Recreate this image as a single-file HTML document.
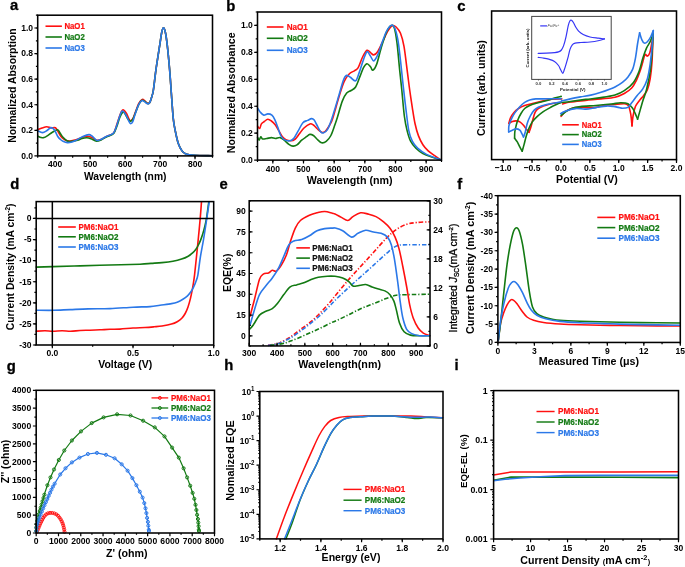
<!DOCTYPE html>
<html><head><meta charset="utf-8"><style>html,body{margin:0;padding:0;background:#fff;}svg{display:block;will-change:transform;}</style></head>
<body><svg width="685" height="567" viewBox="0 0 685 567" font-family="Liberation Sans, sans-serif">
<rect width="685" height="567" fill="#fff"/>
<text x="10.10" y="10.10" font-size="14.80" font-weight="bold" text-anchor="start" fill="#000" stroke="#000" stroke-width="0.3">a</text>
<text x="226.20" y="10.80" font-size="14.80" font-weight="bold" text-anchor="start" fill="#000" stroke="#000" stroke-width="0.3">b</text>
<text x="457.20" y="11.00" font-size="14.80" font-weight="bold" text-anchor="start" fill="#000" stroke="#000" stroke-width="0.3">c</text>
<text x="10.20" y="188.80" font-size="14.80" font-weight="bold" text-anchor="start" fill="#000" stroke="#000" stroke-width="0.3">d</text>
<text x="219.60" y="189.10" font-size="14.80" font-weight="bold" text-anchor="start" fill="#000" stroke="#000" stroke-width="0.3">e</text>
<text x="457.30" y="188.50" font-size="14.80" font-weight="bold" text-anchor="start" fill="#000" stroke="#000" stroke-width="0.3">f</text>
<text x="6.80" y="370.60" font-size="14.80" font-weight="bold" text-anchor="start" fill="#000" stroke="#000" stroke-width="0.3">g</text>
<text x="224.30" y="370.40" font-size="14.80" font-weight="bold" text-anchor="start" fill="#000" stroke="#000" stroke-width="0.3">h</text>
<text x="454.50" y="370.40" font-size="14.80" font-weight="bold" text-anchor="start" fill="#000" stroke="#000" stroke-width="0.3">i</text>
<path d="M37.90,129.70 C38.58,129.42 40.52,128.50 42.00,128.00 C43.48,127.50 45.30,126.72 46.80,126.70 C48.30,126.68 49.57,127.72 51.00,127.90 C52.43,128.08 54.23,127.20 55.40,127.80 C56.57,128.40 57.10,130.10 58.00,131.50 C58.90,132.90 59.88,134.95 60.80,136.20 C61.72,137.45 62.60,138.28 63.50,139.00 C64.40,139.72 65.12,140.17 66.20,140.50 C67.28,140.83 68.38,141.12 70.00,141.00 C71.62,140.88 73.90,140.38 75.90,139.80 C77.90,139.22 80.18,138.10 82.00,137.50 C83.82,136.90 85.13,136.20 86.80,136.20 C88.47,136.20 90.38,136.83 92.00,137.50 C93.62,138.17 95.00,139.87 96.50,140.20 C98.00,140.53 99.37,140.10 101.00,139.50 C102.63,138.90 104.53,137.45 106.30,136.60 C108.07,135.75 110.27,135.20 111.60,134.40 C112.93,133.60 113.40,133.53 114.30,131.80 C115.20,130.07 116.08,126.72 117.00,124.00 C117.92,121.28 118.97,117.70 119.80,115.50 C120.63,113.30 121.33,111.70 122.00,110.80 C122.67,109.90 123.05,109.65 123.80,110.10 C124.55,110.55 125.63,112.02 126.50,113.50 C127.37,114.98 128.30,117.80 129.00,119.00 C129.70,120.20 130.03,120.78 130.70,120.70 C131.37,120.62 132.18,120.03 133.00,118.50 C133.82,116.97 134.63,114.00 135.60,111.50 C136.57,109.00 137.68,105.50 138.80,103.50 C139.92,101.50 141.33,99.97 142.30,99.50 C143.27,99.03 143.72,100.08 144.60,100.70 C145.48,101.32 146.75,102.90 147.60,103.20 C148.45,103.50 148.98,103.65 149.70,102.50 C150.42,101.35 151.28,98.38 151.90,96.30 C152.52,94.22 152.72,94.48 153.40,90.00 C154.08,85.52 154.93,76.95 156.00,69.40 C157.07,61.85 158.83,50.93 159.80,44.70 C160.77,38.47 161.18,34.80 161.80,32.00 C162.42,29.20 162.92,27.90 163.50,27.90 C164.08,27.90 164.68,29.20 165.30,32.00 C165.92,34.80 166.48,38.47 167.20,44.70 C167.92,50.93 168.90,61.18 169.60,69.40 C170.30,77.62 170.78,85.77 171.40,94.00 C172.02,102.23 172.65,112.63 173.30,118.80 C173.95,124.97 174.47,126.88 175.30,131.00 C176.13,135.12 177.18,140.18 178.30,143.50 C179.42,146.82 180.88,149.23 182.00,150.90 C183.12,152.57 183.77,152.85 185.00,153.50 C186.23,154.15 187.73,154.50 189.40,154.80 C191.07,155.10 191.15,155.15 195.00,155.30 C198.85,155.45 209.58,155.63 212.50,155.70" fill="none" stroke="#ff1010" stroke-width="1.60" stroke-linejoin="round" stroke-linecap="round" />
<path d="M37.90,136.20 C38.42,136.42 39.98,137.27 41.00,137.50 C42.02,137.73 42.83,137.97 44.00,137.60 C45.17,137.23 46.67,136.15 48.00,135.30 C49.33,134.45 50.40,133.43 52.00,132.50 C53.60,131.57 56.27,129.62 57.60,129.70 C58.93,129.78 59.10,131.73 60.00,133.00 C60.90,134.27 61.78,135.97 63.00,137.30 C64.22,138.63 65.97,140.32 67.30,141.00 C68.63,141.68 69.28,141.52 71.00,141.40 C72.72,141.28 75.77,140.78 77.60,140.30 C79.43,139.82 80.47,138.92 82.00,138.50 C83.53,138.08 85.30,137.75 86.80,137.80 C88.30,137.85 89.38,138.23 91.00,138.80 C92.62,139.37 94.83,141.00 96.50,141.20 C98.17,141.40 99.37,140.70 101.00,140.00 C102.63,139.30 104.53,137.87 106.30,137.00 C108.07,136.13 110.27,135.55 111.60,134.80 C112.93,134.05 113.40,133.97 114.30,132.50 C115.20,131.03 116.08,128.50 117.00,126.00 C117.92,123.50 118.83,119.80 119.80,117.50 C120.77,115.20 122.02,112.95 122.80,112.20 C123.58,111.45 123.80,112.12 124.50,113.00 C125.20,113.88 126.22,116.25 127.00,117.50 C127.78,118.75 128.58,119.88 129.20,120.50 C129.82,121.12 130.07,121.45 130.70,121.20 C131.33,120.95 132.18,120.45 133.00,119.00 C133.82,117.55 134.63,114.92 135.60,112.50 C136.57,110.08 137.73,106.53 138.80,104.50 C139.87,102.47 141.03,100.83 142.00,100.30 C142.97,99.77 143.67,100.77 144.60,101.30 C145.53,101.83 146.75,103.28 147.60,103.50 C148.45,103.72 148.98,103.80 149.70,102.60 C150.42,101.40 151.28,98.40 151.90,96.30 C152.52,94.20 152.72,94.48 153.40,90.00 C154.08,85.52 154.93,76.95 156.00,69.40 C157.07,61.85 158.83,50.93 159.80,44.70 C160.77,38.47 161.18,34.80 161.80,32.00 C162.42,29.20 162.92,27.90 163.50,27.90 C164.08,27.90 164.68,29.20 165.30,32.00 C165.92,34.80 166.48,38.47 167.20,44.70 C167.92,50.93 168.90,61.18 169.60,69.40 C170.30,77.62 170.78,85.77 171.40,94.00 C172.02,102.23 172.65,112.63 173.30,118.80 C173.95,124.97 174.47,126.88 175.30,131.00 C176.13,135.12 177.18,140.18 178.30,143.50 C179.42,146.82 180.88,149.23 182.00,150.90 C183.12,152.57 183.77,152.85 185.00,153.50 C186.23,154.15 187.73,154.50 189.40,154.80 C191.07,155.10 191.15,155.15 195.00,155.30 C198.85,155.45 209.58,155.63 212.50,155.70" fill="none" stroke="#137a13" stroke-width="1.60" stroke-linejoin="round" stroke-linecap="round" />
<path d="M37.90,130.90 C38.67,131.18 40.98,132.67 42.50,132.60 C44.02,132.53 45.57,131.33 47.00,130.50 C48.43,129.67 49.85,127.68 51.10,127.60 C52.35,127.52 53.42,128.57 54.50,130.00 C55.58,131.43 56.60,134.62 57.60,136.20 C58.60,137.78 59.60,138.67 60.50,139.50 C61.40,140.33 61.87,140.68 63.00,141.20 C64.13,141.72 65.80,142.47 67.30,142.60 C68.80,142.73 70.57,142.38 72.00,142.00 C73.43,141.62 74.08,141.22 75.90,140.30 C77.72,139.38 80.73,137.45 82.90,136.50 C85.07,135.55 87.38,134.68 88.90,134.60 C90.42,134.52 90.73,135.07 92.00,136.00 C93.27,136.93 95.17,139.57 96.50,140.20 C97.83,140.83 98.37,140.40 100.00,139.80 C101.63,139.20 104.37,137.50 106.30,136.60 C108.23,135.70 110.27,135.20 111.60,134.40 C112.93,133.60 113.42,133.38 114.30,131.80 C115.18,130.22 116.02,127.45 116.90,124.90 C117.78,122.35 118.83,118.68 119.60,116.50 C120.37,114.32 120.88,112.67 121.50,111.80 C122.12,110.93 122.52,110.70 123.30,111.30 C124.08,111.90 125.23,113.67 126.20,115.40 C127.17,117.13 128.35,120.32 129.10,121.70 C129.85,123.08 130.08,123.70 130.70,123.70 C131.32,123.70 132.02,123.43 132.80,121.70 C133.58,119.97 134.43,116.12 135.40,113.30 C136.37,110.48 137.53,106.92 138.60,104.80 C139.67,102.68 140.83,101.13 141.80,100.60 C142.77,100.07 143.43,101.07 144.40,101.60 C145.37,102.13 146.72,103.62 147.60,103.80 C148.48,103.98 148.98,103.95 149.70,102.70 C150.42,101.45 151.28,98.42 151.90,96.30 C152.52,94.18 152.72,94.48 153.40,90.00 C154.08,85.52 154.93,76.95 156.00,69.40 C157.07,61.85 158.83,50.93 159.80,44.70 C160.77,38.47 161.18,34.80 161.80,32.00 C162.42,29.20 162.92,27.90 163.50,27.90 C164.08,27.90 164.68,29.20 165.30,32.00 C165.92,34.80 166.48,38.47 167.20,44.70 C167.92,50.93 168.90,61.18 169.60,69.40 C170.30,77.62 170.78,85.77 171.40,94.00 C172.02,102.23 172.65,112.63 173.30,118.80 C173.95,124.97 174.47,126.88 175.30,131.00 C176.13,135.12 177.18,140.18 178.30,143.50 C179.42,146.82 180.88,149.23 182.00,150.90 C183.12,152.57 183.77,152.85 185.00,153.50 C186.23,154.15 187.73,154.50 189.40,154.80 C191.07,155.10 191.15,155.15 195.00,155.30 C198.85,155.45 209.58,155.63 212.50,155.70" fill="none" stroke="#2b78e8" stroke-width="1.60" stroke-linejoin="round" stroke-linecap="round" />
<rect x="37.70" y="15.20" width="174.80" height="140.70" fill="none" stroke="#000" stroke-width="1.55"/>
<path d="M55.18,155.90v3.30M90.14,155.90v3.30M125.10,155.90v3.30M160.06,155.90v3.30M195.02,155.90v3.30" stroke="#000" stroke-width="1.20"/>
<path d="M37.70,155.90v1.80M55.18,155.90v1.80M72.66,155.90v1.80M90.14,155.90v1.80M107.62,155.90v1.80M125.10,155.90v1.80M142.58,155.90v1.80M160.06,155.90v1.80M177.54,155.90v1.80M195.02,155.90v1.80M212.50,155.90v1.80" stroke="#000" stroke-width="1.20"/>
<path d="M37.70,155.90h-3.30M37.70,130.32h-3.30M37.70,104.74h-3.30M37.70,79.15h-3.30M37.70,53.57h-3.30M37.70,27.99h-3.30" stroke="#000" stroke-width="1.20"/>
<path d="M37.70,143.11h-1.80M37.70,130.32h-1.80M37.70,117.53h-1.80M37.70,104.74h-1.80M37.70,91.95h-1.80M37.70,79.15h-1.80M37.70,66.36h-1.80M37.70,53.57h-1.80M37.70,40.78h-1.80M37.70,27.99h-1.80M37.70,15.20h-1.80" stroke="#000" stroke-width="1.20"/>
<text transform="translate(55.18,167.10) scale(0.890,1)" font-size="9.60" font-weight="bold" text-anchor="middle" fill="#000" >400</text>
<text transform="translate(90.14,167.10) scale(0.890,1)" font-size="9.60" font-weight="bold" text-anchor="middle" fill="#000" >500</text>
<text transform="translate(125.10,167.10) scale(0.890,1)" font-size="9.60" font-weight="bold" text-anchor="middle" fill="#000" >600</text>
<text transform="translate(160.06,167.10) scale(0.890,1)" font-size="9.60" font-weight="bold" text-anchor="middle" fill="#000" >700</text>
<text transform="translate(195.02,167.10) scale(0.890,1)" font-size="9.60" font-weight="bold" text-anchor="middle" fill="#000" >800</text>
<text transform="translate(33.00,158.70) scale(0.890,1)" font-size="9.60" font-weight="bold" text-anchor="end" fill="#000" >0.0</text>
<text transform="translate(33.00,133.12) scale(0.890,1)" font-size="9.60" font-weight="bold" text-anchor="end" fill="#000" >0.2</text>
<text transform="translate(33.00,107.54) scale(0.890,1)" font-size="9.60" font-weight="bold" text-anchor="end" fill="#000" >0.4</text>
<text transform="translate(33.00,81.95) scale(0.890,1)" font-size="9.60" font-weight="bold" text-anchor="end" fill="#000" >0.6</text>
<text transform="translate(33.00,56.37) scale(0.890,1)" font-size="9.60" font-weight="bold" text-anchor="end" fill="#000" >0.8</text>
<text transform="translate(33.00,30.79) scale(0.890,1)" font-size="9.60" font-weight="bold" text-anchor="end" fill="#000" >1.0</text>
<text x="125.20" y="180.20" font-size="10.30" font-weight="bold" text-anchor="middle" fill="#000" >Wavelength (nm)</text>
<text transform="translate(16.20,85.60) rotate(-90)" font-size="10.45" font-weight="bold" text-anchor="middle" fill="#000">Normalized Absorption</text>
<line x1="45.50" y1="26.20" x2="61.90" y2="26.20" stroke="#ff1010" stroke-width="1.60"/>
<text transform="translate(64.40,29.01) scale(0.847,1)" font-size="9.20" font-weight="bold" text-anchor="start" fill="#ff1010" stroke="#ff1010" stroke-width="0.22">NaO1</text>
<line x1="45.50" y1="37.00" x2="61.90" y2="37.00" stroke="#137a13" stroke-width="1.60"/>
<text transform="translate(64.40,39.81) scale(0.847,1)" font-size="9.20" font-weight="bold" text-anchor="start" fill="#137a13" stroke="#137a13" stroke-width="0.22">NaO2</text>
<line x1="45.50" y1="48.00" x2="61.90" y2="48.00" stroke="#2b78e8" stroke-width="1.60"/>
<text transform="translate(64.40,50.81) scale(0.847,1)" font-size="9.20" font-weight="bold" text-anchor="start" fill="#2b78e8" stroke="#2b78e8" stroke-width="0.22">NaO3</text>
<path d="M257.60,126.20 C257.95,126.58 259.07,128.88 259.70,128.50 C260.33,128.12 260.63,125.07 261.40,123.90 C262.17,122.73 263.23,122.28 264.30,121.50 C265.37,120.72 266.62,119.28 267.80,119.20 C268.98,119.12 270.13,120.03 271.40,121.00 C272.67,121.97 274.15,123.35 275.40,125.00 C276.65,126.65 277.73,128.95 278.90,130.90 C280.07,132.85 281.23,135.25 282.40,136.70 C283.57,138.15 284.53,138.92 285.90,139.60 C287.27,140.28 289.03,140.90 290.60,140.80 C292.17,140.70 293.83,140.17 295.30,139.00 C296.77,137.83 297.95,135.63 299.40,133.80 C300.85,131.97 302.25,129.65 304.00,128.00 C305.75,126.35 308.33,124.40 309.90,123.90 C311.47,123.40 312.23,124.23 313.40,125.00 C314.57,125.77 315.53,127.28 316.90,128.50 C318.27,129.72 320.23,131.80 321.60,132.30 C322.97,132.80 323.75,132.72 325.10,131.50 C326.45,130.28 328.45,127.13 329.70,125.00 C330.95,122.87 331.08,123.28 332.60,118.70 C334.12,114.12 336.88,103.67 338.80,97.50 C340.72,91.33 342.33,85.67 344.10,81.70 C345.87,77.73 347.63,75.53 349.40,73.70 C351.17,71.87 353.23,71.72 354.70,70.70 C356.17,69.68 356.88,69.88 358.20,67.60 C359.52,65.32 361.13,59.88 362.60,57.00 C364.07,54.12 365.68,51.03 367.00,50.30 C368.32,49.57 369.38,51.83 370.50,52.60 C371.62,53.37 372.52,55.05 373.70,54.90 C374.88,54.75 376.07,54.00 377.60,51.70 C379.13,49.40 381.15,44.62 382.90,41.10 C384.65,37.58 386.48,33.18 388.10,30.60 C389.72,28.02 391.27,26.20 392.60,25.60 C393.93,25.00 394.78,25.73 396.10,27.00 C397.42,28.27 399.18,29.97 400.50,33.20 C401.82,36.43 402.83,39.78 404.00,46.40 C405.17,53.02 406.55,65.63 407.50,72.90 C408.45,80.17 408.90,84.22 409.70,90.00 C410.50,95.78 411.42,102.02 412.30,107.60 C413.18,113.18 413.97,118.78 415.00,123.50 C416.03,128.22 417.18,132.37 418.50,135.90 C419.82,139.43 421.28,142.20 422.90,144.70 C424.52,147.20 426.13,148.98 428.20,150.90 C430.27,152.82 433.23,154.73 435.30,156.20 C437.37,157.67 439.72,159.12 440.60,159.70" fill="none" stroke="#ff1010" stroke-width="1.60" stroke-linejoin="round" stroke-linecap="round" />
<path d="M257.60,137.30 C257.85,137.78 258.57,140.30 259.10,140.20 C259.63,140.10 260.22,136.90 260.80,136.70 C261.38,136.50 261.62,138.70 262.60,139.00 C263.58,139.30 265.23,138.73 266.70,138.50 C268.17,138.27 269.95,137.60 271.40,137.60 C272.85,137.60 273.95,138.50 275.40,138.50 C276.85,138.50 278.63,137.32 280.10,137.60 C281.57,137.88 282.73,139.08 284.20,140.20 C285.67,141.32 287.43,143.32 288.90,144.30 C290.37,145.28 291.65,146.00 293.00,146.10 C294.35,146.20 295.55,145.88 297.00,144.90 C298.45,143.92 300.13,141.57 301.70,140.20 C303.27,138.83 305.03,137.67 306.40,136.70 C307.77,135.73 308.73,134.60 309.90,134.40 C311.07,134.20 312.23,134.73 313.40,135.50 C314.57,136.27 315.53,137.78 316.90,139.00 C318.27,140.22 320.05,142.40 321.60,142.80 C323.15,143.20 324.65,142.62 326.20,141.40 C327.75,140.18 329.43,138.32 330.90,135.50 C332.37,132.68 333.90,127.58 335.00,124.50 C336.10,121.42 336.28,120.90 337.50,117.00 C338.72,113.10 340.77,105.08 342.30,101.10 C343.83,97.12 345.23,94.87 346.70,93.10 C348.17,91.33 349.62,91.52 351.10,90.50 C352.58,89.48 354.12,89.35 355.60,87.00 C357.08,84.65 358.68,79.63 360.00,76.40 C361.32,73.17 362.33,69.72 363.50,67.60 C364.67,65.48 365.83,63.85 367.00,63.70 C368.17,63.55 369.53,65.62 370.50,66.70 C371.47,67.78 371.77,70.63 372.80,70.20 C373.83,69.77 375.32,67.77 376.70,64.10 C378.08,60.43 379.48,53.50 381.10,48.20 C382.72,42.90 384.78,36.07 386.40,32.30 C388.02,28.53 389.48,26.33 390.80,25.60 C392.12,24.87 393.27,25.02 394.30,27.90 C395.33,30.78 396.12,36.00 397.00,42.90 C397.88,49.80 398.80,61.45 399.60,69.30 C400.40,77.15 401.00,82.13 401.80,90.00 C402.60,97.87 403.52,109.73 404.40,116.50 C405.28,123.27 406.07,126.48 407.10,130.60 C408.13,134.72 409.13,138.27 410.60,141.20 C412.07,144.13 413.85,146.15 415.90,148.20 C417.95,150.25 420.25,152.02 422.90,153.50 C425.55,154.98 428.85,156.07 431.80,157.10 C434.75,158.13 439.13,159.27 440.60,159.70" fill="none" stroke="#137a13" stroke-width="1.60" stroke-linejoin="round" stroke-linecap="round" />
<path d="M257.60,108.10 C258.05,108.78 259.27,111.03 260.30,112.20 C261.33,113.37 262.55,114.82 263.80,115.10 C265.05,115.38 266.45,113.90 267.80,113.90 C269.15,113.90 270.72,114.12 271.90,115.10 C273.08,116.08 273.92,117.75 274.90,119.80 C275.88,121.85 276.83,124.78 277.80,127.40 C278.77,130.02 279.63,133.47 280.70,135.50 C281.77,137.53 282.65,138.72 284.20,139.60 C285.75,140.48 288.35,141.08 290.00,140.80 C291.65,140.52 292.73,139.55 294.10,137.90 C295.47,136.25 296.73,133.43 298.20,130.90 C299.67,128.37 301.33,124.45 302.90,122.70 C304.47,120.95 306.15,121.08 307.60,120.40 C309.05,119.72 310.53,118.70 311.60,118.60 C312.67,118.50 313.12,118.73 314.00,119.80 C314.88,120.87 315.83,123.05 316.90,125.00 C317.97,126.95 319.33,130.17 320.40,131.50 C321.47,132.83 322.13,133.30 323.30,133.00 C324.47,132.70 325.98,132.08 327.40,129.70 C328.82,127.32 329.90,124.35 331.80,118.70 C333.70,113.05 336.90,102.12 338.80,95.80 C340.70,89.48 341.97,84.18 343.20,80.80 C344.43,77.42 345.02,76.08 346.20,75.50 C347.38,74.92 348.73,76.42 350.30,77.30 C351.87,78.18 354.13,81.53 355.60,80.80 C357.07,80.07 357.78,76.43 359.10,72.90 C360.42,69.37 362.18,63.13 363.50,59.60 C364.82,56.07 365.83,52.28 367.00,51.70 C368.17,51.12 369.38,54.57 370.50,56.10 C371.62,57.63 372.52,61.05 373.70,60.90 C374.88,60.75 376.22,58.20 377.60,55.20 C378.98,52.20 380.53,46.85 382.00,42.90 C383.47,38.95 384.93,34.38 386.40,31.50 C387.87,28.62 389.48,26.35 390.80,25.60 C392.12,24.85 393.13,24.70 394.30,27.00 C395.47,29.30 396.77,33.82 397.80,39.40 C398.83,44.98 399.62,52.87 400.50,60.50 C401.38,68.13 402.22,77.27 403.10,85.20 C403.98,93.13 404.85,100.53 405.80,108.10 C406.75,115.67 407.72,125.08 408.80,130.60 C409.88,136.12 410.83,138.27 412.30,141.20 C413.77,144.13 415.23,146.00 417.60,148.20 C419.97,150.40 422.67,152.48 426.50,154.40 C430.33,156.32 438.25,158.82 440.60,159.70" fill="none" stroke="#2b78e8" stroke-width="1.60" stroke-linejoin="round" stroke-linecap="round" />
<rect x="257.50" y="12.00" width="184.00" height="148.10" fill="none" stroke="#000" stroke-width="1.55"/>
<path d="M272.83,160.10v3.30M303.50,160.10v3.30M334.17,160.10v3.30M364.83,160.10v3.30M395.50,160.10v3.30M426.17,160.10v3.30" stroke="#000" stroke-width="1.20"/>
<path d="M257.50,160.10v1.80M272.83,160.10v1.80M288.17,160.10v1.80M303.50,160.10v1.80M318.83,160.10v1.80M334.17,160.10v1.80M349.50,160.10v1.80M364.83,160.10v1.80M380.17,160.10v1.80M395.50,160.10v1.80M410.83,160.10v1.80M426.17,160.10v1.80M441.50,160.10v1.80" stroke="#000" stroke-width="1.20"/>
<path d="M257.50,160.10h-3.30M257.50,133.17h-3.30M257.50,106.25h-3.30M257.50,79.32h-3.30M257.50,52.39h-3.30M257.50,25.46h-3.30" stroke="#000" stroke-width="1.20"/>
<path d="M257.50,146.64h-1.80M257.50,133.17h-1.80M257.50,119.71h-1.80M257.50,106.25h-1.80M257.50,92.78h-1.80M257.50,79.32h-1.80M257.50,65.85h-1.80M257.50,52.39h-1.80M257.50,38.93h-1.80M257.50,25.46h-1.80M257.50,12.00h-1.80" stroke="#000" stroke-width="1.20"/>
<text transform="translate(272.83,171.70) scale(0.890,1)" font-size="9.60" font-weight="bold" text-anchor="middle" fill="#000" >400</text>
<text transform="translate(303.50,171.70) scale(0.890,1)" font-size="9.60" font-weight="bold" text-anchor="middle" fill="#000" >500</text>
<text transform="translate(334.17,171.70) scale(0.890,1)" font-size="9.60" font-weight="bold" text-anchor="middle" fill="#000" >600</text>
<text transform="translate(364.83,171.70) scale(0.890,1)" font-size="9.60" font-weight="bold" text-anchor="middle" fill="#000" >700</text>
<text transform="translate(395.50,171.70) scale(0.890,1)" font-size="9.60" font-weight="bold" text-anchor="middle" fill="#000" >800</text>
<text transform="translate(426.17,171.70) scale(0.890,1)" font-size="9.60" font-weight="bold" text-anchor="middle" fill="#000" >900</text>
<text transform="translate(252.80,162.90) scale(0.890,1)" font-size="9.60" font-weight="bold" text-anchor="end" fill="#000" >0.0</text>
<text transform="translate(252.80,135.97) scale(0.890,1)" font-size="9.60" font-weight="bold" text-anchor="end" fill="#000" >0.2</text>
<text transform="translate(252.80,109.05) scale(0.890,1)" font-size="9.60" font-weight="bold" text-anchor="end" fill="#000" >0.4</text>
<text transform="translate(252.80,82.12) scale(0.890,1)" font-size="9.60" font-weight="bold" text-anchor="end" fill="#000" >0.6</text>
<text transform="translate(252.80,55.19) scale(0.890,1)" font-size="9.60" font-weight="bold" text-anchor="end" fill="#000" >0.8</text>
<text transform="translate(252.80,28.26) scale(0.890,1)" font-size="9.60" font-weight="bold" text-anchor="end" fill="#000" >1.0</text>
<text x="349.70" y="183.60" font-size="10.70" font-weight="bold" text-anchor="middle" fill="#000" >Wavelength (nm)</text>
<text transform="translate(234.50,92.80) rotate(-90)" font-size="10.60" font-weight="bold" text-anchor="middle" fill="#000">Normalized Absorbance</text>
<line x1="266.80" y1="27.00" x2="283.50" y2="27.00" stroke="#ff1010" stroke-width="1.60"/>
<text transform="translate(286.70,29.92) scale(0.847,1)" font-size="9.56" font-weight="bold" text-anchor="start" fill="#ff1010" stroke="#ff1010" stroke-width="0.22">NaO1</text>
<line x1="266.80" y1="38.30" x2="283.50" y2="38.30" stroke="#137a13" stroke-width="1.60"/>
<text transform="translate(286.70,41.22) scale(0.847,1)" font-size="9.56" font-weight="bold" text-anchor="start" fill="#137a13" stroke="#137a13" stroke-width="0.22">NaO2</text>
<line x1="266.80" y1="50.30" x2="283.50" y2="50.30" stroke="#2b78e8" stroke-width="1.60"/>
<text transform="translate(286.70,53.22) scale(0.847,1)" font-size="9.56" font-weight="bold" text-anchor="start" fill="#2b78e8" stroke="#2b78e8" stroke-width="0.22">NaO3</text>
<rect x="531.7" y="16.4" width="79.5" height="63" fill="none" stroke="#444" stroke-width="1"/>
<path d="M538.20,53.40 C539.58,53.35 543.78,53.23 546.50,53.10 C549.22,52.97 552.50,52.80 554.50,52.60 C556.50,52.40 557.35,52.33 558.50,51.90 C559.65,51.47 560.53,51.08 561.40,50.00 C562.27,48.92 562.93,47.60 563.70,45.40 C564.47,43.20 565.23,40.15 566.00,36.80 C566.77,33.45 567.63,27.98 568.30,25.30 C568.97,22.62 569.47,21.55 570.00,20.70 C570.53,19.85 570.93,19.90 571.50,20.20 C572.07,20.50 572.70,21.37 573.40,22.50 C574.10,23.63 574.83,25.57 575.70,27.00 C576.57,28.43 577.35,29.85 578.60,31.10 C579.85,32.35 581.30,33.52 583.20,34.50 C585.10,35.48 587.52,36.38 590.00,37.00 C592.48,37.62 595.70,37.88 598.10,38.20 C600.50,38.52 603.35,38.78 604.40,38.90" fill="none" stroke="#3636f5" stroke-width="1.20" stroke-linejoin="round" stroke-linecap="round" />
<path d="M604.40,38.90 C603.53,39.17 601.60,39.98 599.20,40.50 C596.80,41.02 593.05,41.67 590.00,42.00 C586.95,42.33 583.38,42.32 580.90,42.50 C578.42,42.68 576.53,42.72 575.10,43.10 C573.67,43.48 573.15,43.75 572.30,44.80 C571.45,45.85 570.67,47.48 570.00,49.40 C569.33,51.32 568.97,53.82 568.30,56.30 C567.63,58.78 566.68,62.02 566.00,64.30 C565.32,66.58 564.73,68.50 564.20,70.00 C563.67,71.50 563.37,73.30 562.80,73.30 C562.23,73.30 561.52,71.30 560.80,70.00 C560.08,68.70 559.55,66.93 558.50,65.50 C557.45,64.07 556.12,62.45 554.50,61.40 C552.88,60.35 550.72,59.77 548.80,59.20 C546.88,58.63 544.77,58.30 543.00,58.00 C541.23,57.70 539.00,57.50 538.20,57.40" fill="none" stroke="#3636f5" stroke-width="1.20" stroke-linejoin="round" stroke-linecap="round" />
<line x1="540.2" y1="25.9" x2="547" y2="25.9" stroke="#3636f5" stroke-width="1.2"/>
<text x="547.6" y="27.3" font-size="4" font-style="italic" fill="#444">Fc/Fc<tspan dy="-1.5" font-size="3">+</tspan></text>
<path d="M538.50,79v1.60M545.10,79v0.90M551.70,79v1.60M558.30,79v0.90M564.90,79v1.60M571.50,79v0.90M578.10,79v1.60M584.70,79v0.90M591.30,79v1.60M597.90,79v0.90M604.50,79v1.60" stroke="#444" stroke-width="0.7"/>
<text x="538.50" y="85.20" font-size="4.20" font-weight="bold" text-anchor="middle" fill="#333" >0.0</text>
<text x="551.70" y="85.20" font-size="4.20" font-weight="bold" text-anchor="middle" fill="#333" >0.2</text>
<text x="564.90" y="85.20" font-size="4.20" font-weight="bold" text-anchor="middle" fill="#333" >0.4</text>
<text x="578.10" y="85.20" font-size="4.20" font-weight="bold" text-anchor="middle" fill="#333" >0.6</text>
<text x="591.30" y="85.20" font-size="4.20" font-weight="bold" text-anchor="middle" fill="#333" >0.8</text>
<text x="604.50" y="85.20" font-size="4.20" font-weight="bold" text-anchor="middle" fill="#333" >1.0</text>
<text x="572.70" y="90.60" font-size="4.40" font-weight="bold" text-anchor="middle" fill="#222" >Potential (V)</text>
<text transform="translate(528.90,48.00) rotate(-90)" font-size="4.30" font-weight="bold" text-anchor="middle" fill="#222">Current (arb. units)</text>
<path d="M561.80,98.90 C560.15,98.97 554.98,98.97 551.90,99.30 C548.82,99.63 546.18,100.28 543.30,100.90 C540.42,101.52 537.70,102.23 534.60,103.00 C531.50,103.77 527.38,104.58 524.70,105.50 C522.02,106.42 520.35,107.27 518.50,108.50 C516.65,109.73 514.93,111.35 513.60,112.90 C512.27,114.45 511.28,116.05 510.50,117.80 C509.72,119.55 509.17,122.47 508.90,123.40" fill="none" stroke="#ff1010" stroke-width="1.60" stroke-linejoin="round" stroke-linecap="round" />
<path d="M508.90,123.40 C509.48,123.08 511.20,121.92 512.40,121.50 C513.60,121.08 514.87,120.83 516.10,120.90 C517.33,120.97 518.57,121.18 519.80,121.90 C521.03,122.62 522.37,123.92 523.50,125.20 C524.63,126.48 525.68,128.42 526.60,129.60 C527.52,130.78 528.60,131.85 529.00,132.30" fill="none" stroke="#ff1010" stroke-width="1.60" stroke-linejoin="round" stroke-linecap="round" />
<path d="M529.00,132.30 C529.32,131.43 530.27,129.20 530.90,127.10 C531.53,125.00 532.08,122.18 532.80,119.70 C533.52,117.22 534.28,114.07 535.20,112.20 C536.12,110.33 536.95,109.52 538.30,108.50 C539.65,107.48 541.45,106.82 543.30,106.10 C545.15,105.38 547.35,104.72 549.40,104.20 C551.45,103.68 553.63,103.30 555.60,103.00 C557.57,102.70 560.27,102.50 561.20,102.40" fill="none" stroke="#ff1010" stroke-width="1.60" stroke-linejoin="round" stroke-linecap="round" />
<path d="M562.70,104.00 C563.97,103.67 566.47,102.60 570.30,102.00 C574.13,101.40 580.58,100.92 585.70,100.40 C590.82,99.88 596.12,99.43 601.00,98.90 C605.88,98.37 611.12,98.10 615.00,97.20 C618.88,96.30 621.52,95.03 624.30,93.50 C627.08,91.97 629.70,90.15 631.70,88.00 C633.70,85.85 634.92,83.38 636.30,80.60 C637.68,77.82 638.92,74.40 640.00,71.30 C641.08,68.20 641.97,64.78 642.80,62.00 C643.63,59.22 644.23,55.58 645.00,54.60 C645.77,53.62 646.60,56.40 647.40,56.10 C648.20,55.80 649.08,54.90 649.80,52.80 C650.52,50.70 651.17,46.13 651.70,43.50 C652.23,40.87 652.78,38.08 653.00,37.00" fill="none" stroke="#ff1010" stroke-width="1.60" stroke-linejoin="round" stroke-linecap="round" />
<path d="M653.00,37.00 C652.83,41.17 652.47,55.05 652.00,62.00 C651.53,68.95 650.97,74.07 650.20,78.70 C649.43,83.33 648.48,87.02 647.40,89.80 C646.32,92.58 645.08,93.55 643.70,95.40 C642.32,97.25 640.48,99.05 639.10,100.90 C637.72,102.75 636.40,104.03 635.40,106.50 C634.40,108.97 633.67,112.47 633.10,115.70 C632.53,118.93 632.18,124.20 632.00,125.90" fill="none" stroke="#ff1010" stroke-width="1.60" stroke-linejoin="round" stroke-linecap="round" />
<path d="M632.00,125.90 C631.78,123.90 631.32,117.28 630.70,113.90 C630.08,110.52 629.37,107.30 628.30,105.60 C627.23,103.90 626.63,103.88 624.30,103.70 C621.97,103.52 617.68,104.20 614.30,104.50 C610.92,104.80 607.07,105.02 604.00,105.50 C600.93,105.98 598.45,107.05 595.90,107.40 C593.35,107.75 590.92,107.65 588.70,107.60 C586.48,107.55 584.82,107.10 582.60,107.10 C580.38,107.10 577.45,107.27 575.40,107.60 C573.35,107.93 572.00,108.42 570.30,109.10 C568.60,109.78 566.73,110.50 565.20,111.70 C563.67,112.90 561.78,115.53 561.10,116.30" fill="none" stroke="#ff1010" stroke-width="1.60" stroke-linejoin="round" stroke-linecap="round" />
<path d="M561.20,96.40 C560.07,96.67 556.77,97.32 554.40,98.00 C552.03,98.68 549.88,99.67 547.00,100.50 C544.12,101.33 539.98,102.17 537.10,103.00 C534.22,103.83 531.77,104.58 529.70,105.50 C527.63,106.42 526.15,107.17 524.70,108.50 C523.25,109.83 522.13,111.63 521.00,113.50 C519.87,115.37 518.72,117.65 517.90,119.70 C517.08,121.75 516.62,123.75 516.10,125.80 C515.58,127.85 515.05,129.93 514.80,132.00 C514.55,134.07 514.63,137.17 514.60,138.20" fill="none" stroke="#137a13" stroke-width="1.60" stroke-linejoin="round" stroke-linecap="round" />
<path d="M514.60,138.20 C515.05,138.82 516.43,140.45 517.30,141.90 C518.17,143.35 518.98,145.35 519.80,146.90 C520.62,148.45 521.80,150.48 522.20,151.20" fill="none" stroke="#137a13" stroke-width="1.60" stroke-linejoin="round" stroke-linecap="round" />
<path d="M522.20,151.20 C522.52,150.07 523.47,146.77 524.10,144.40 C524.73,142.03 525.28,139.47 526.00,137.00 C526.72,134.53 527.38,132.08 528.40,129.60 C529.42,127.12 530.65,124.27 532.10,122.10 C533.55,119.93 535.23,118.35 537.10,116.60 C538.97,114.85 541.03,113.15 543.30,111.60 C545.57,110.05 548.43,108.53 550.70,107.30 C552.97,106.07 555.15,105.02 556.90,104.20 C558.65,103.38 560.48,102.70 561.20,102.40" fill="none" stroke="#137a13" stroke-width="1.60" stroke-linejoin="round" stroke-linecap="round" />
<path d="M562.20,102.50 C563.55,102.33 566.38,102.02 570.30,101.50 C574.22,100.98 580.58,100.05 585.70,99.40 C590.82,98.75 596.12,98.33 601.00,97.60 C605.88,96.87 611.12,96.15 615.00,95.00 C618.88,93.85 621.22,92.80 624.30,90.70 C627.38,88.60 631.03,85.63 633.50,82.40 C635.97,79.17 637.55,75.32 639.10,71.30 C640.65,67.28 641.57,62.17 642.80,58.30 C644.03,54.43 645.27,50.87 646.50,48.10 C647.73,45.33 649.08,44.13 650.20,41.70 C651.32,39.27 652.70,34.87 653.20,33.50" fill="none" stroke="#137a13" stroke-width="1.60" stroke-linejoin="round" stroke-linecap="round" />
<path d="M653.20,33.50 C653.00,36.72 652.50,46.50 652.00,52.80 C651.50,59.10 651.12,65.13 650.20,71.30 C649.28,77.47 647.73,84.87 646.50,89.80 C645.27,94.73 644.03,96.88 642.80,100.90 C641.57,104.92 639.97,110.87 639.10,113.90 C638.23,116.93 637.85,118.23 637.60,119.10" fill="none" stroke="#137a13" stroke-width="1.60" stroke-linejoin="round" stroke-linecap="round" />
<path d="M637.60,119.10 C637.23,118.23 636.23,115.70 635.40,113.90 C634.57,112.10 633.83,110.00 632.60,108.30 C631.37,106.60 630.00,104.62 628.00,103.70 C626.00,102.78 623.40,102.75 620.60,102.80 C617.80,102.85 615.32,103.55 611.20,104.00 C607.08,104.45 601.02,105.07 595.90,105.50 C590.78,105.93 584.77,106.00 580.50,106.60 C576.23,107.20 573.53,107.65 570.30,109.10 C567.07,110.55 562.63,114.27 561.10,115.30" fill="none" stroke="#137a13" stroke-width="1.60" stroke-linejoin="round" stroke-linecap="round" />
<path d="M561.20,98.70 C559.65,98.70 554.88,98.67 551.90,98.70 C548.92,98.73 545.98,98.87 543.30,98.90 C540.62,98.93 538.07,98.73 535.80,98.90 C533.53,99.07 531.55,99.32 529.70,99.90 C527.85,100.48 526.35,101.27 524.70,102.40 C523.05,103.53 521.45,104.95 519.80,106.70 C518.15,108.45 516.25,110.73 514.80,112.90 C513.35,115.07 512.08,117.55 511.10,119.70 C510.12,121.85 509.30,123.75 508.90,125.80 C508.50,127.85 508.73,130.97 508.70,132.00" fill="none" stroke="#2b78e8" stroke-width="1.60" stroke-linejoin="round" stroke-linecap="round" />
<path d="M508.70,132.00 C509.32,131.70 511.17,130.72 512.40,130.20 C513.63,129.68 514.87,128.90 516.10,128.90 C517.33,128.90 518.82,129.37 519.80,130.20 C520.78,131.03 521.38,132.77 522.00,133.90 C522.62,135.03 523.25,136.48 523.50,137.00" fill="none" stroke="#2b78e8" stroke-width="1.60" stroke-linejoin="round" stroke-linecap="round" />
<path d="M523.50,137.00 C523.80,136.17 524.68,134.27 525.30,132.00 C525.92,129.73 526.37,126.07 527.20,123.40 C528.03,120.73 529.17,118.17 530.30,116.00 C531.43,113.83 532.67,111.85 534.00,110.40 C535.33,108.95 536.35,108.23 538.30,107.30 C540.25,106.37 543.22,105.47 545.70,104.80 C548.18,104.13 550.62,103.82 553.20,103.30 C555.78,102.78 559.87,101.97 561.20,101.70" fill="none" stroke="#2b78e8" stroke-width="1.60" stroke-linejoin="round" stroke-linecap="round" />
<path d="M561.60,100.90 C563.05,100.57 567.15,99.57 570.30,98.90 C573.45,98.23 577.08,97.53 580.50,96.90 C583.92,96.27 587.38,95.87 590.80,95.10 C594.22,94.33 597.97,93.23 601.00,92.30 C604.03,91.37 606.67,90.38 609.00,89.50 C611.33,88.62 612.77,88.18 615.00,87.00 C617.23,85.82 620.23,84.08 622.40,82.40 C624.57,80.72 626.30,79.07 628.00,76.90 C629.70,74.73 631.37,72.50 632.60,69.40 C633.83,66.30 634.57,62.62 635.40,58.30 C636.23,53.98 636.90,47.75 637.60,43.50 C638.30,39.25 639.27,34.58 639.60,32.80" fill="none" stroke="#2b78e8" stroke-width="1.60" stroke-linejoin="round" stroke-linecap="round" />
<path d="M639.60,32.80 C639.98,33.97 641.12,38.08 641.90,39.80 C642.68,41.52 643.38,42.78 644.30,43.10 C645.22,43.42 646.35,42.72 647.40,41.70 C648.45,40.68 649.62,38.85 650.60,37.00 C651.58,35.15 652.85,31.67 653.30,30.60" fill="none" stroke="#2b78e8" stroke-width="1.60" stroke-linejoin="round" stroke-linecap="round" />
<path d="M653.30,30.60 C653.08,33.37 652.52,41.65 652.00,47.20 C651.48,52.75 650.97,58.65 650.20,63.90 C649.43,69.15 648.63,74.53 647.40,78.70 C646.17,82.87 644.50,86.12 642.80,88.90 C641.10,91.68 639.05,93.08 637.20,95.40 C635.35,97.72 633.23,100.80 631.70,102.80 C630.17,104.80 629.55,106.48 628.00,107.40 C626.45,108.32 624.00,108.30 622.40,108.30 C620.80,108.30 619.93,107.72 618.40,107.40 C616.87,107.08 615.25,106.62 613.20,106.40 C611.15,106.18 608.98,105.90 606.10,106.10 C603.22,106.30 599.30,107.10 595.90,107.60 C592.50,108.10 589.12,108.93 585.70,109.10 C582.28,109.27 578.82,108.25 575.40,108.60 C571.98,108.95 567.67,110.35 565.20,111.20 C562.73,112.05 561.37,113.28 560.60,113.70" fill="none" stroke="#2b78e8" stroke-width="1.60" stroke-linejoin="round" stroke-linecap="round" />
<rect x="491.60" y="11.00" width="184.90" height="148.60" fill="none" stroke="#000" stroke-width="1.55"/>
<path d="M503.16,159.60v3.30M532.05,159.60v3.30M560.94,159.60v3.30M589.83,159.60v3.30M618.72,159.60v3.30M647.61,159.60v3.30M676.50,159.60v3.30" stroke="#000" stroke-width="1.20"/>
<path d="M503.16,159.60v1.80M517.60,159.60v1.80M532.05,159.60v1.80M546.49,159.60v1.80M560.94,159.60v1.80M575.38,159.60v1.80M589.83,159.60v1.80M604.27,159.60v1.80M618.72,159.60v1.80M633.16,159.60v1.80M647.61,159.60v1.80M662.05,159.60v1.80M676.50,159.60v1.80" stroke="#000" stroke-width="1.20"/>
<text transform="translate(503.16,171.10) scale(0.890,1)" font-size="9.60" font-weight="bold" text-anchor="middle" fill="#000" >−1.0</text>
<text transform="translate(532.05,171.10) scale(0.890,1)" font-size="9.60" font-weight="bold" text-anchor="middle" fill="#000" >−0.5</text>
<text transform="translate(560.94,171.10) scale(0.890,1)" font-size="9.60" font-weight="bold" text-anchor="middle" fill="#000" >0.0</text>
<text transform="translate(589.83,171.10) scale(0.890,1)" font-size="9.60" font-weight="bold" text-anchor="middle" fill="#000" >0.5</text>
<text transform="translate(618.72,171.10) scale(0.890,1)" font-size="9.60" font-weight="bold" text-anchor="middle" fill="#000" >1.0</text>
<text transform="translate(647.61,171.10) scale(0.890,1)" font-size="9.60" font-weight="bold" text-anchor="middle" fill="#000" >1.5</text>
<text transform="translate(676.50,171.10) scale(0.890,1)" font-size="9.60" font-weight="bold" text-anchor="middle" fill="#000" >2.0</text>
<text x="587.00" y="183.20" font-size="10.60" font-weight="bold" text-anchor="middle" fill="#000" >Potential (V)</text>
<text transform="translate(484.70,88.10) rotate(-90)" font-size="10.60" font-weight="bold" text-anchor="middle" fill="#000">Current (arb. units)</text>
<line x1="562.20" y1="124.80" x2="578.80" y2="124.80" stroke="#ff1010" stroke-width="1.60"/>
<text transform="translate(581.80,127.54) scale(0.833,1)" font-size="9.12" font-weight="bold" text-anchor="start" fill="#ff1010" stroke="#ff1010" stroke-width="0.22">NaO1</text>
<line x1="562.20" y1="134.60" x2="578.80" y2="134.60" stroke="#137a13" stroke-width="1.60"/>
<text transform="translate(581.80,137.34) scale(0.833,1)" font-size="9.12" font-weight="bold" text-anchor="start" fill="#137a13" stroke="#137a13" stroke-width="0.22">NaO2</text>
<line x1="562.20" y1="144.40" x2="578.80" y2="144.40" stroke="#2b78e8" stroke-width="1.60"/>
<text transform="translate(581.80,147.14) scale(0.833,1)" font-size="9.12" font-weight="bold" text-anchor="start" fill="#2b78e8" stroke="#2b78e8" stroke-width="0.22">NaO3</text>
<path d="M36.20,331.20 C37.67,331.13 42.22,330.78 45.00,330.80 C47.78,330.82 50.07,331.32 52.90,331.30 C55.73,331.28 59.05,330.72 62.00,330.70 C64.95,330.68 67.60,331.23 70.60,331.20 C73.60,331.17 76.77,330.67 80.00,330.50 C83.23,330.33 86.67,330.32 90.00,330.20 C93.33,330.08 96.67,329.95 100.00,329.80 C103.33,329.65 106.67,329.42 110.00,329.30 C113.33,329.18 116.17,329.32 120.00,329.10 C123.83,328.88 128.83,328.27 133.00,328.00 C137.17,327.73 141.48,327.70 145.00,327.50 C148.52,327.30 151.27,327.05 154.10,326.80 C156.93,326.55 159.10,326.45 162.00,326.00 C164.90,325.55 168.97,324.82 171.50,324.10 C174.03,323.38 175.48,322.68 177.20,321.70 C178.92,320.72 180.47,319.57 181.80,318.20 C183.13,316.83 184.15,315.42 185.20,313.50 C186.25,311.58 187.23,309.18 188.10,306.70 C188.97,304.22 189.73,301.28 190.40,298.60 C191.07,295.92 191.58,293.27 192.10,290.60 C192.62,287.93 193.08,285.27 193.50,282.60 C193.92,279.93 194.15,278.45 194.60,274.60 C195.05,270.75 195.60,265.32 196.20,259.50 C196.80,253.68 197.53,246.53 198.20,239.70 C198.87,232.87 199.65,224.82 200.20,218.50 C200.75,212.18 201.28,204.58 201.50,201.80" fill="none" stroke="#ff1010" stroke-width="1.60" stroke-linejoin="round" stroke-linecap="round" />
<path d="M36.20,267.10 C38.98,267.02 45.60,266.80 52.90,266.60 C60.20,266.40 70.48,266.17 80.00,265.90 C89.52,265.63 100.00,265.28 110.00,265.00 C120.00,264.72 133.17,264.47 140.00,264.20 C146.83,263.93 147.35,263.67 151.00,263.40 C154.65,263.13 158.25,262.97 161.90,262.60 C165.55,262.23 169.62,261.78 172.90,261.20 C176.18,260.62 179.05,259.93 181.60,259.10 C184.15,258.27 186.37,257.23 188.20,256.20 C190.03,255.17 191.32,254.07 192.60,252.90 C193.88,251.73 194.93,250.52 195.90,249.20 C196.87,247.88 197.58,246.60 198.40,245.00 C199.22,243.40 200.07,241.47 200.80,239.60 C201.53,237.73 202.17,235.87 202.80,233.80 C203.43,231.73 203.98,229.75 204.60,227.20 C205.22,224.65 205.80,222.73 206.50,218.50 C207.20,214.27 208.42,204.58 208.80,201.80" fill="none" stroke="#137a13" stroke-width="1.60" stroke-linejoin="round" stroke-linecap="round" />
<path d="M36.20,310.20 C38.98,310.22 47.27,310.40 52.90,310.30 C58.53,310.20 64.12,309.83 70.00,309.60 C75.88,309.37 81.53,309.07 88.20,308.90 C94.87,308.73 102.53,308.88 110.00,308.60 C117.47,308.32 126.33,307.53 133.00,307.20 C139.67,306.87 145.50,306.93 150.00,306.60 C154.50,306.27 156.42,305.70 160.00,305.20 C163.58,304.70 168.63,304.10 171.50,303.60 C174.37,303.10 175.30,302.92 177.20,302.20 C179.10,301.48 181.18,300.37 182.90,299.30 C184.62,298.23 186.17,297.05 187.50,295.80 C188.83,294.55 189.85,293.33 190.90,291.80 C191.95,290.27 192.93,288.42 193.80,286.60 C194.67,284.78 195.42,282.87 196.10,280.90 C196.78,278.93 197.20,278.70 197.90,274.80 C198.60,270.90 199.37,263.35 200.30,257.50 C201.23,251.65 202.42,246.20 203.50,239.70 C204.58,233.20 205.85,224.82 206.80,218.50 C207.75,212.18 208.80,204.58 209.20,201.80" fill="none" stroke="#2b78e8" stroke-width="1.60" stroke-linejoin="round" stroke-linecap="round" />
<line x1="36.20" y1="218.47" x2="213.70" y2="218.47" stroke="#000" stroke-width="1.5"/>
<line x1="52.34" y1="201.60" x2="52.34" y2="345.00" stroke="#000" stroke-width="1.5"/>
<rect x="36.20" y="201.60" width="177.50" height="143.40" fill="none" stroke="#000" stroke-width="1.55"/>
<path d="M52.34,345.00v3.30M133.02,345.00v3.30M213.70,345.00v3.30" stroke="#000" stroke-width="1.20"/>
<path d="M52.34,345.00v1.80M92.68,345.00v1.80M133.02,345.00v1.80M173.36,345.00v1.80M213.70,345.00v1.80" stroke="#000" stroke-width="1.20"/>
<path d="M36.20,345.00h-3.30M36.20,323.91h-3.30M36.20,302.82h-3.30M36.20,281.74h-3.30M36.20,260.65h-3.30M36.20,239.56h-3.30M36.20,218.47h-3.30" stroke="#000" stroke-width="1.20"/>
<path d="M36.20,345.00h-1.80M36.20,334.46h-1.80M36.20,323.91h-1.80M36.20,313.37h-1.80M36.20,302.82h-1.80M36.20,292.28h-1.80M36.20,281.74h-1.80M36.20,271.19h-1.80M36.20,260.65h-1.80M36.20,250.10h-1.80M36.20,239.56h-1.80M36.20,229.01h-1.80M36.20,218.47h-1.80M36.20,207.93h-1.80" stroke="#000" stroke-width="1.20"/>
<text transform="translate(52.34,356.40) scale(0.890,1)" font-size="9.60" font-weight="bold" text-anchor="middle" fill="#000" >0.0</text>
<text transform="translate(133.02,356.40) scale(0.890,1)" font-size="9.60" font-weight="bold" text-anchor="middle" fill="#000" >0.5</text>
<text transform="translate(213.70,356.40) scale(0.890,1)" font-size="9.60" font-weight="bold" text-anchor="middle" fill="#000" >1.0</text>
<text transform="translate(31.50,347.80) scale(0.890,1)" font-size="9.60" font-weight="bold" text-anchor="end" fill="#000" >-30</text>
<text transform="translate(31.50,326.71) scale(0.890,1)" font-size="9.60" font-weight="bold" text-anchor="end" fill="#000" >-25</text>
<text transform="translate(31.50,305.62) scale(0.890,1)" font-size="9.60" font-weight="bold" text-anchor="end" fill="#000" >-20</text>
<text transform="translate(31.50,284.54) scale(0.890,1)" font-size="9.60" font-weight="bold" text-anchor="end" fill="#000" >-15</text>
<text transform="translate(31.50,263.45) scale(0.890,1)" font-size="9.60" font-weight="bold" text-anchor="end" fill="#000" >-10</text>
<text transform="translate(31.50,242.36) scale(0.890,1)" font-size="9.60" font-weight="bold" text-anchor="end" fill="#000" >-5</text>
<text transform="translate(31.50,221.27) scale(0.890,1)" font-size="9.60" font-weight="bold" text-anchor="end" fill="#000" >0</text>
<text x="125.20" y="368.40" font-size="10.50" font-weight="bold" text-anchor="middle" fill="#000" >Voltage (V)</text>
<text transform="translate(13.60,266.80) rotate(-90)" font-size="10.30" font-weight="bold" text-anchor="middle" fill="#000">Current Density (mA cm<tspan dy="-3.5" font-size="6.5">-2</tspan><tspan dy="3.5">)</tspan></text>
<line x1="58.20" y1="227.00" x2="75.80" y2="227.00" stroke="#ff1010" stroke-width="1.60"/>
<text transform="translate(78.50,229.88) scale(0.847,1)" font-size="9.44" font-weight="bold" text-anchor="start" fill="#ff1010" stroke="#ff1010" stroke-width="0.22">PM6:NaO1</text>
<line x1="58.20" y1="236.80" x2="75.80" y2="236.80" stroke="#137a13" stroke-width="1.60"/>
<text transform="translate(78.50,239.68) scale(0.847,1)" font-size="9.44" font-weight="bold" text-anchor="start" fill="#137a13" stroke="#137a13" stroke-width="0.22">PM6:NaO2</text>
<line x1="58.20" y1="247.00" x2="75.80" y2="247.00" stroke="#2b78e8" stroke-width="1.60"/>
<text transform="translate(78.50,249.88) scale(0.847,1)" font-size="9.44" font-weight="bold" text-anchor="start" fill="#2b78e8" stroke="#2b78e8" stroke-width="0.22">PM6:NaO3</text>
<path d="M268.00,345.30 C269.17,345.12 272.97,344.65 275.00,344.20 C277.03,343.75 277.63,343.80 280.20,342.60 C282.77,341.40 286.98,339.22 290.40,337.00 C293.82,334.78 297.28,331.85 300.70,329.30 C304.12,326.75 307.50,324.58 310.90,321.70 C314.30,318.82 317.70,315.50 321.10,312.00 C324.50,308.50 328.98,303.37 331.30,300.70 C333.62,298.03 332.25,299.35 335.00,296.00 C337.75,292.65 343.53,285.52 347.80,280.60 C352.07,275.68 356.33,271.18 360.60,266.50 C364.87,261.82 369.13,257.18 373.40,252.50 C377.67,247.82 382.37,242.25 386.20,238.40 C390.03,234.55 392.98,231.75 396.40,229.40 C399.82,227.05 403.28,225.45 406.70,224.30 C410.12,223.15 413.07,222.92 416.90,222.50 C420.73,222.08 427.57,221.92 429.70,221.80" fill="none" stroke="#ff1010" stroke-width="1.6" stroke-dasharray="4.5 1.9 1.2 1.9" stroke-linecap="butt"/>
<path d="M268.00,345.40 C269.17,345.23 272.97,344.78 275.00,344.40 C277.03,344.02 277.63,344.17 280.20,343.10 C282.77,342.03 286.98,340.03 290.40,338.00 C293.82,335.97 297.28,333.37 300.70,330.90 C304.12,328.43 307.50,325.93 310.90,323.20 C314.30,320.47 317.70,317.65 321.10,314.50 C324.50,311.35 328.98,306.65 331.30,304.30 C333.62,301.95 332.25,303.07 335.00,300.40 C337.75,297.73 343.53,292.23 347.80,288.30 C352.07,284.37 356.33,280.63 360.60,276.80 C364.87,272.97 369.13,269.15 373.40,265.30 C377.67,261.45 382.37,256.90 386.20,253.70 C390.03,250.50 392.98,247.58 396.40,246.10 C399.82,244.62 401.15,245.02 406.70,244.80 C412.25,244.58 425.87,244.80 429.70,244.80" fill="none" stroke="#2b78e8" stroke-width="1.6" stroke-dasharray="4.5 1.9 1.2 1.9" stroke-linecap="butt"/>
<path d="M270.00,345.50 C272.05,345.18 278.90,344.33 282.30,343.60 C285.70,342.87 287.33,342.20 290.40,341.10 C293.47,340.00 297.28,338.45 300.70,337.00 C304.12,335.55 307.50,333.93 310.90,332.40 C314.30,330.87 317.70,329.42 321.10,327.80 C324.50,326.18 328.98,323.80 331.30,322.70 C333.62,321.60 332.25,322.45 335.00,321.20 C337.75,319.95 343.53,317.27 347.80,315.20 C352.07,313.13 356.33,310.72 360.60,308.80 C364.87,306.88 369.13,305.42 373.40,303.70 C377.67,301.98 382.37,299.92 386.20,298.50 C390.03,297.08 392.98,295.83 396.40,295.20 C399.82,294.57 401.15,294.87 406.70,294.70 C412.25,294.53 425.87,294.28 429.70,294.20" fill="none" stroke="#137a13" stroke-width="1.6" stroke-dasharray="4.5 1.9 1.2 1.9" stroke-linecap="butt"/>
<path d="M250.00,316.30 C250.73,313.53 252.82,305.87 254.40,299.70 C255.98,293.53 258.02,283.57 259.50,279.30 C260.98,275.03 261.80,275.17 263.30,274.10 C264.80,273.03 267.00,273.53 268.50,272.90 C270.00,272.27 271.03,270.60 272.30,270.30 C273.57,270.00 274.62,271.95 276.10,271.10 C277.58,270.25 279.48,267.88 281.20,265.20 C282.92,262.52 284.90,258.83 286.40,255.00 C287.90,251.17 288.72,246.68 290.20,242.20 C291.68,237.72 293.60,231.72 295.30,228.10 C297.00,224.48 298.05,222.63 300.40,220.50 C302.75,218.37 306.63,216.58 309.40,215.30 C312.17,214.02 314.45,213.43 317.00,212.80 C319.55,212.17 322.13,211.42 324.70,211.50 C327.27,211.58 330.68,212.88 332.40,213.30 C334.12,213.72 333.50,213.32 335.00,214.00 C336.50,214.68 339.27,216.32 341.40,217.40 C343.53,218.48 345.88,220.63 347.80,220.50 C349.72,220.37 350.77,217.88 352.90,216.60 C355.03,215.32 358.03,213.22 360.60,212.80 C363.17,212.38 365.73,213.47 368.30,214.10 C370.87,214.73 373.45,215.32 376.00,216.60 C378.55,217.88 381.27,219.87 383.60,221.80 C385.93,223.73 388.08,225.65 390.00,228.20 C391.92,230.75 393.60,233.70 395.10,237.10 C396.60,240.50 397.72,243.70 399.00,248.60 C400.28,253.50 401.52,260.10 402.80,266.50 C404.08,272.90 405.55,280.60 406.70,287.00 C407.85,293.40 408.63,299.78 409.70,304.90 C410.77,310.02 411.68,313.85 413.10,317.70 C414.52,321.55 416.50,325.43 418.20,328.00 C419.90,330.57 421.38,331.82 423.30,333.10 C425.22,334.38 428.63,335.27 429.70,335.70" fill="none" stroke="#ff1010" stroke-width="1.60" stroke-linejoin="round" stroke-linecap="round" />
<path d="M249.60,329.10 C250.18,328.47 251.45,327.63 253.10,325.30 C254.75,322.97 257.37,317.45 259.50,315.10 C261.63,312.75 263.77,312.27 265.90,311.20 C268.03,310.13 270.38,309.97 272.30,308.70 C274.22,307.43 275.48,305.95 277.40,303.60 C279.32,301.25 281.67,297.38 283.80,294.60 C285.93,291.82 288.07,288.52 290.20,286.90 C292.33,285.28 294.47,285.53 296.60,284.90 C298.73,284.27 300.67,283.95 303.00,283.10 C305.33,282.25 308.05,280.78 310.60,279.80 C313.15,278.82 315.52,277.80 318.30,277.20 C321.08,276.60 324.52,276.35 327.30,276.20 C330.08,276.05 332.43,275.98 335.00,276.30 C337.57,276.62 340.35,277.17 342.70,278.10 C345.05,279.03 347.40,280.58 349.10,281.90 C350.80,283.22 351.42,285.37 352.90,286.00 C354.38,286.63 355.87,285.95 358.00,285.70 C360.13,285.45 363.35,284.28 365.70,284.50 C368.05,284.72 369.97,286.23 372.10,287.00 C374.23,287.77 376.37,288.45 378.50,289.10 C380.63,289.75 382.98,289.97 384.90,290.90 C386.82,291.83 388.50,293.00 390.00,294.70 C391.50,296.40 392.83,298.53 393.90,301.10 C394.97,303.67 395.47,306.47 396.40,310.10 C397.33,313.73 398.22,319.28 399.50,322.90 C400.78,326.52 402.27,329.77 404.10,331.80 C405.93,333.83 407.93,334.45 410.50,335.10 C413.07,335.75 416.30,335.60 419.50,335.70 C422.70,335.80 428.00,335.70 429.70,335.70" fill="none" stroke="#137a13" stroke-width="1.60" stroke-linejoin="round" stroke-linecap="round" />
<path d="M250.00,325.30 C250.73,322.73 252.82,315.02 254.40,309.90 C255.98,304.78 257.58,298.63 259.50,294.60 C261.42,290.57 263.77,288.47 265.90,285.70 C268.03,282.93 270.17,280.98 272.30,278.00 C274.43,275.02 276.78,271.42 278.70,267.80 C280.62,264.18 282.10,260.15 283.80,256.30 C285.50,252.45 287.20,247.27 288.90,244.70 C290.60,242.13 291.87,241.75 294.00,240.90 C296.13,240.05 299.13,240.45 301.70,239.60 C304.27,238.75 306.85,237.28 309.40,235.80 C311.95,234.32 314.45,231.90 317.00,230.70 C319.55,229.50 322.13,229.03 324.70,228.60 C327.27,228.17 330.68,228.20 332.40,228.10 C334.12,228.00 333.28,227.57 335.00,228.00 C336.72,228.43 339.93,229.18 342.70,230.70 C345.47,232.22 349.05,236.67 351.60,237.10 C354.15,237.53 355.65,234.45 358.00,233.30 C360.35,232.15 363.13,230.42 365.70,230.20 C368.27,229.98 370.83,231.48 373.40,232.00 C375.97,232.52 378.75,232.45 381.10,233.30 C383.45,234.15 385.80,235.18 387.50,237.10 C389.20,239.02 390.15,241.17 391.30,244.80 C392.45,248.43 393.33,252.72 394.40,258.90 C395.47,265.08 396.72,274.65 397.70,281.90 C398.68,289.15 399.45,296.43 400.30,302.40 C401.15,308.37 401.73,313.22 402.80,317.70 C403.87,322.18 405.20,326.65 406.70,329.30 C408.20,331.95 409.67,332.53 411.80,333.60 C413.93,334.67 416.52,335.35 419.50,335.70 C422.48,336.05 428.00,335.70 429.70,335.70" fill="none" stroke="#2b78e8" stroke-width="1.60" stroke-linejoin="round" stroke-linecap="round" />
<rect x="249.20" y="200.80" width="180.80" height="145.15" fill="none" stroke="#000" stroke-width="1.55"/>
<path d="M249.20,345.95v-3.30M277.02,345.95v-3.30M304.83,345.95v-3.30M332.65,345.95v-3.30M360.46,345.95v-3.30M388.28,345.95v-3.30M416.09,345.95v-3.30" stroke="#000" stroke-width="1.20"/>
<path d="M263.11,345.95v-1.60M277.02,345.95v-1.60M290.92,345.95v-1.60M304.83,345.95v-1.60M318.74,345.95v-1.60M332.65,345.95v-1.60M346.55,345.95v-1.60M360.46,345.95v-1.60M374.37,345.95v-1.60M388.28,345.95v-1.60M402.18,345.95v-1.60M416.09,345.95v-1.60M430.00,345.95v-1.60" stroke="#000" stroke-width="1.20"/>
<path d="M249.20,335.80h3.30M249.20,315.03h3.30M249.20,294.27h3.30M249.20,273.50h3.30M249.20,252.73h3.30M249.20,231.96h3.30M249.20,211.20h3.30" stroke="#000" stroke-width="1.20"/>
<path d="M249.20,346.19h1.60M249.20,335.80h1.60M249.20,325.42h1.60M249.20,315.03h1.60M249.20,304.65h1.60M249.20,294.27h1.60M249.20,283.88h1.60M249.20,273.50h1.60M249.20,263.12h1.60M249.20,252.73h1.60M249.20,242.35h1.60M249.20,231.96h1.60M249.20,221.58h1.60M249.20,211.20h1.60M249.20,200.81h1.60" stroke="#000" stroke-width="1.20"/>
<path d="M430.00,345.95h-3.30M430.00,316.92h-3.30M430.00,287.89h-3.30M430.00,258.86h-3.30M430.00,229.83h-3.30M430.00,200.80h-3.30" stroke="#000" stroke-width="1.20"/>
<path d="M430.00,345.95h-1.60M430.00,331.44h-1.60M430.00,316.92h-1.60M430.00,302.40h-1.60M430.00,287.89h-1.60M430.00,273.38h-1.60M430.00,258.86h-1.60M430.00,244.35h-1.60M430.00,229.83h-1.60M430.00,215.31h-1.60M430.00,200.80h-1.60" stroke="#000" stroke-width="1.20"/>
<text transform="translate(249.20,356.10) scale(0.890,1)" font-size="9.60" font-weight="bold" text-anchor="middle" fill="#000" >300</text>
<text transform="translate(277.02,356.10) scale(0.890,1)" font-size="9.60" font-weight="bold" text-anchor="middle" fill="#000" >400</text>
<text transform="translate(304.83,356.10) scale(0.890,1)" font-size="9.60" font-weight="bold" text-anchor="middle" fill="#000" >500</text>
<text transform="translate(332.65,356.10) scale(0.890,1)" font-size="9.60" font-weight="bold" text-anchor="middle" fill="#000" >600</text>
<text transform="translate(360.46,356.10) scale(0.890,1)" font-size="9.60" font-weight="bold" text-anchor="middle" fill="#000" >700</text>
<text transform="translate(388.28,356.10) scale(0.890,1)" font-size="9.60" font-weight="bold" text-anchor="middle" fill="#000" >800</text>
<text transform="translate(416.09,356.10) scale(0.890,1)" font-size="9.60" font-weight="bold" text-anchor="middle" fill="#000" >900</text>
<text transform="translate(245.80,338.60) scale(0.890,1)" font-size="9.60" font-weight="bold" text-anchor="end" fill="#000" >0</text>
<text transform="translate(245.80,317.83) scale(0.890,1)" font-size="9.60" font-weight="bold" text-anchor="end" fill="#000" >15</text>
<text transform="translate(245.80,297.07) scale(0.890,1)" font-size="9.60" font-weight="bold" text-anchor="end" fill="#000" >30</text>
<text transform="translate(245.80,276.30) scale(0.890,1)" font-size="9.60" font-weight="bold" text-anchor="end" fill="#000" >45</text>
<text transform="translate(245.80,255.53) scale(0.890,1)" font-size="9.60" font-weight="bold" text-anchor="end" fill="#000" >60</text>
<text transform="translate(245.80,234.76) scale(0.890,1)" font-size="9.60" font-weight="bold" text-anchor="end" fill="#000" >75</text>
<text transform="translate(245.80,214.00) scale(0.890,1)" font-size="9.60" font-weight="bold" text-anchor="end" fill="#000" >90</text>
<text transform="translate(433.30,348.75) scale(0.890,1)" font-size="9.60" font-weight="bold" text-anchor="start" fill="#000" >0</text>
<text transform="translate(433.30,319.72) scale(0.890,1)" font-size="9.60" font-weight="bold" text-anchor="start" fill="#000" >6</text>
<text transform="translate(433.30,290.69) scale(0.890,1)" font-size="9.60" font-weight="bold" text-anchor="start" fill="#000" >12</text>
<text transform="translate(433.30,261.66) scale(0.890,1)" font-size="9.60" font-weight="bold" text-anchor="start" fill="#000" >18</text>
<text transform="translate(433.30,232.63) scale(0.890,1)" font-size="9.60" font-weight="bold" text-anchor="start" fill="#000" >24</text>
<text transform="translate(433.30,203.60) scale(0.890,1)" font-size="9.60" font-weight="bold" text-anchor="start" fill="#000" >30</text>
<text x="339.60" y="368.40" font-size="10.70" font-weight="bold" text-anchor="middle" fill="#000" >Wavelength(nm)</text>
<text transform="translate(231.20,272.80) rotate(-90)" font-size="10.50" font-weight="bold" text-anchor="middle" fill="#000">EQE(%)</text>
<text transform="translate(456.6,278.0) rotate(-90)" font-size="10.5" text-anchor="middle" stroke="#000" stroke-width="0.3">Integrated <tspan font-style="italic">J</tspan><tspan font-size="6.5" dy="2">SC</tspan><tspan dy="-2">(mA cm</tspan><tspan dy="-3.5" font-size="6">-2</tspan><tspan dy="3.5">)</tspan></text>
<line x1="296.30" y1="247.90" x2="309.90" y2="247.90" stroke="#ff1010" stroke-width="1.60"/>
<text transform="translate(312.30,250.82) scale(0.893,1)" font-size="9.07" font-weight="bold" text-anchor="start" fill="#111" stroke="#111" stroke-width="0.22">PM6:NaO1</text>
<line x1="296.30" y1="258.10" x2="309.90" y2="258.10" stroke="#137a13" stroke-width="1.60"/>
<text transform="translate(312.30,261.02) scale(0.893,1)" font-size="9.07" font-weight="bold" text-anchor="start" fill="#111" stroke="#111" stroke-width="0.22">PM6:NaO2</text>
<line x1="296.30" y1="268.30" x2="309.90" y2="268.30" stroke="#2b78e8" stroke-width="1.60"/>
<text transform="translate(312.30,271.22) scale(0.893,1)" font-size="9.07" font-weight="bold" text-anchor="start" fill="#111" stroke="#111" stroke-width="0.22">PM6:NaO3</text>
<path d="M498.30,340.50 C498.67,337.68 499.58,328.25 500.50,323.60 C501.42,318.95 502.70,315.73 503.80,312.60 C504.90,309.47 505.92,306.93 507.10,304.80 C508.28,302.67 509.80,300.53 510.90,299.80 C512.00,299.07 512.68,299.75 513.70,300.40 C514.72,301.05 515.72,302.05 517.00,303.70 C518.28,305.35 519.73,308.08 521.40,310.30 C523.07,312.52 524.97,315.33 527.00,317.00 C529.03,318.67 530.85,319.38 533.60,320.30 C536.35,321.22 539.10,321.88 543.50,322.50 C547.90,323.12 553.92,323.62 560.00,324.00 C566.08,324.38 571.67,324.57 580.00,324.80 C588.33,325.03 600.00,325.23 610.00,325.40 C620.00,325.57 628.33,325.70 640.00,325.80 C651.67,325.90 673.33,325.97 680.00,326.00" fill="none" stroke="#ff1010" stroke-width="1.60" stroke-linejoin="round" stroke-linecap="round" />
<path d="M498.30,340.50 C498.67,337.68 499.58,331.57 500.50,323.60 C501.42,315.63 502.70,302.62 503.80,292.70 C504.90,282.78 506.00,272.18 507.10,264.10 C508.20,256.02 509.30,249.72 510.40,244.20 C511.50,238.68 512.67,233.75 513.70,231.00 C514.73,228.25 515.68,227.70 516.60,227.70 C517.52,227.70 518.22,228.25 519.20,231.00 C520.18,233.75 521.38,238.32 522.50,244.20 C523.62,250.08 524.78,258.58 525.90,266.30 C527.02,274.02 528.10,283.72 529.20,290.50 C530.30,297.28 531.22,303.13 532.50,307.00 C533.78,310.87 535.07,312.03 536.90,313.70 C538.73,315.37 540.93,316.08 543.50,317.00 C546.07,317.92 549.55,318.65 552.30,319.20 C555.05,319.75 555.38,319.97 560.00,320.30 C564.62,320.63 571.67,320.92 580.00,321.20 C588.33,321.48 600.00,321.77 610.00,322.00 C620.00,322.23 628.33,322.43 640.00,322.60 C651.67,322.77 673.33,322.93 680.00,323.00" fill="none" stroke="#137a13" stroke-width="1.60" stroke-linejoin="round" stroke-linecap="round" />
<path d="M498.30,340.50 C498.67,337.32 499.58,327.53 500.50,321.40 C501.42,315.27 502.52,309.22 503.80,303.70 C505.08,298.18 506.92,291.78 508.20,288.30 C509.48,284.82 510.40,283.90 511.50,282.80 C512.60,281.70 513.70,281.33 514.80,281.70 C515.90,282.07 516.82,283.17 518.10,285.00 C519.38,286.83 521.02,289.77 522.50,292.70 C523.98,295.63 525.52,299.67 527.00,302.60 C528.48,305.53 529.75,308.20 531.40,310.30 C533.05,312.40 534.52,313.80 536.90,315.20 C539.28,316.60 541.85,317.67 545.70,318.70 C549.55,319.73 554.28,320.72 560.00,321.40 C565.72,322.08 571.67,322.40 580.00,322.80 C588.33,323.20 600.00,323.50 610.00,323.80 C620.00,324.10 628.33,324.37 640.00,324.60 C651.67,324.83 673.33,325.10 680.00,325.20" fill="none" stroke="#2b78e8" stroke-width="1.60" stroke-linejoin="round" stroke-linecap="round" />
<rect x="497.90" y="195.70" width="182.40" height="146.75" fill="none" stroke="#000" stroke-width="1.55"/>
<path d="M497.90,342.45v3.30M534.38,342.45v3.30M570.86,342.45v3.30M607.34,342.45v3.30M643.82,342.45v3.30M680.30,342.45v3.30" stroke="#000" stroke-width="1.20"/>
<path d="M497.90,342.45v1.80M516.14,342.45v1.80M534.38,342.45v1.80M552.62,342.45v1.80M570.86,342.45v1.80M589.10,342.45v1.80M607.34,342.45v1.80M625.58,342.45v1.80M643.82,342.45v1.80M662.06,342.45v1.80M680.30,342.45v1.80" stroke="#000" stroke-width="1.20"/>
<path d="M497.90,195.70h-3.30M497.90,214.04h-3.30M497.90,232.39h-3.30M497.90,250.73h-3.30M497.90,269.07h-3.30M497.90,287.42h-3.30M497.90,305.76h-3.30M497.90,324.11h-3.30M497.90,342.45h-3.30" stroke="#000" stroke-width="1.20"/>
<path d="M497.90,195.70h-1.80M497.90,204.87h-1.80M497.90,214.04h-1.80M497.90,223.22h-1.80M497.90,232.39h-1.80M497.90,241.56h-1.80M497.90,250.73h-1.80M497.90,259.90h-1.80M497.90,269.07h-1.80M497.90,278.25h-1.80M497.90,287.42h-1.80M497.90,296.59h-1.80M497.90,305.76h-1.80M497.90,314.93h-1.80M497.90,324.11h-1.80M497.90,333.28h-1.80M497.90,342.45h-1.80" stroke="#000" stroke-width="1.20"/>
<text transform="translate(497.90,354.10) scale(0.890,1)" font-size="9.60" font-weight="bold" text-anchor="middle" fill="#000" >0</text>
<text transform="translate(534.38,354.10) scale(0.890,1)" font-size="9.60" font-weight="bold" text-anchor="middle" fill="#000" >3</text>
<text transform="translate(570.86,354.10) scale(0.890,1)" font-size="9.60" font-weight="bold" text-anchor="middle" fill="#000" >6</text>
<text transform="translate(607.34,354.10) scale(0.890,1)" font-size="9.60" font-weight="bold" text-anchor="middle" fill="#000" >9</text>
<text transform="translate(643.82,354.10) scale(0.890,1)" font-size="9.60" font-weight="bold" text-anchor="middle" fill="#000" >12</text>
<text transform="translate(680.30,354.10) scale(0.890,1)" font-size="9.60" font-weight="bold" text-anchor="middle" fill="#000" >15</text>
<text transform="translate(492.90,198.50) scale(0.890,1)" font-size="9.60" font-weight="bold" text-anchor="end" fill="#000" >-40</text>
<text transform="translate(492.90,216.84) scale(0.890,1)" font-size="9.60" font-weight="bold" text-anchor="end" fill="#000" >-35</text>
<text transform="translate(492.90,235.19) scale(0.890,1)" font-size="9.60" font-weight="bold" text-anchor="end" fill="#000" >-30</text>
<text transform="translate(492.90,253.53) scale(0.890,1)" font-size="9.60" font-weight="bold" text-anchor="end" fill="#000" >-25</text>
<text transform="translate(492.90,271.88) scale(0.890,1)" font-size="9.60" font-weight="bold" text-anchor="end" fill="#000" >-20</text>
<text transform="translate(492.90,290.22) scale(0.890,1)" font-size="9.60" font-weight="bold" text-anchor="end" fill="#000" >-15</text>
<text transform="translate(492.90,308.56) scale(0.890,1)" font-size="9.60" font-weight="bold" text-anchor="end" fill="#000" >-10</text>
<text transform="translate(492.90,326.91) scale(0.890,1)" font-size="9.60" font-weight="bold" text-anchor="end" fill="#000" >-5</text>
<text transform="translate(492.90,345.25) scale(0.890,1)" font-size="9.60" font-weight="bold" text-anchor="end" fill="#000" >0</text>
<text x="588.90" y="364.60" font-size="10.70" font-weight="bold" text-anchor="middle" fill="#000" >Measured Time (μs)</text>
<text transform="translate(474.00,267.80) rotate(-90)" font-size="10.75" font-weight="bold" text-anchor="middle" fill="#000">Current Density (mA cm<tspan dy="-3.7" font-size="6.8">-2</tspan><tspan dy="3.7">)</tspan></text>
<line x1="597.30" y1="217.40" x2="615.30" y2="217.40" stroke="#ff1010" stroke-width="1.60"/>
<text transform="translate(618.50,220.35) scale(0.962,1)" font-size="8.53" font-weight="bold" text-anchor="start" fill="#ff1010" stroke="#ff1010" stroke-width="0.22">PM6:NaO1</text>
<line x1="597.30" y1="227.60" x2="615.30" y2="227.60" stroke="#137a13" stroke-width="1.60"/>
<text transform="translate(618.50,230.55) scale(0.962,1)" font-size="8.53" font-weight="bold" text-anchor="start" fill="#137a13" stroke="#137a13" stroke-width="0.22">PM6:NaO2</text>
<line x1="597.30" y1="238.20" x2="615.30" y2="238.20" stroke="#2b78e8" stroke-width="1.60"/>
<text transform="translate(618.50,241.15) scale(0.962,1)" font-size="8.53" font-weight="bold" text-anchor="start" fill="#2b78e8" stroke="#2b78e8" stroke-width="0.22">PM6:NaO3</text>
<path d="M36.90,531.80 L38.50,528.00 L40.30,523.60 L41.90,520.50 L43.20,517.90 L45.00,515.40 L46.50,514.00 L48.50,513.10 L51.00,512.80 L53.50,513.10 L55.60,513.90 L57.50,515.10 L58.90,516.80 L60.50,519.00 L61.80,521.40 L62.90,524.00 L63.70,527.00 L64.30,530.00 L64.60,532.30" fill="none" stroke="#ff1010" stroke-width="0.70" stroke-linejoin="round"/>
<g fill="none" stroke="#ff1010" stroke-width="1.00"><circle cx="36.90" cy="531.80" r="1.50"/><circle cx="37.75" cy="529.77" r="1.50"/><circle cx="38.60" cy="527.74" r="1.50"/><circle cx="39.44" cy="525.71" r="1.50"/><circle cx="40.27" cy="523.67" r="1.50"/><circle cx="41.27" cy="521.71" r="1.50"/><circle cx="42.27" cy="519.75" r="1.50"/><circle cx="43.27" cy="517.80" r="1.50"/><circle cx="44.56" cy="516.01" r="1.50"/><circle cx="46.06" cy="514.41" r="1.50"/><circle cx="47.95" cy="513.35" r="1.50"/><circle cx="50.09" cy="512.91" r="1.50"/><circle cx="52.27" cy="512.95" r="1.50"/><circle cx="54.40" cy="513.44" r="1.50"/><circle cx="56.38" cy="514.39" r="1.50"/><circle cx="58.05" cy="515.77" r="1.50"/><circle cx="59.41" cy="517.50" r="1.50"/><circle cx="60.67" cy="519.31" r="1.50"/><circle cx="61.71" cy="521.24" r="1.50"/><circle cx="62.59" cy="523.26" r="1.50"/><circle cx="63.26" cy="525.35" r="1.50"/><circle cx="63.80" cy="527.48" r="1.50"/><circle cx="64.23" cy="529.64" r="1.50"/><circle cx="64.54" cy="531.82" r="1.50"/></g>
<path d="M36.30,531.00 L36.20,527.40 L36.70,523.80 L37.40,520.20 L38.30,516.00 L39.50,511.90 L40.70,507.60 L42.10,502.90 L43.60,497.60 L45.20,491.70 L47.40,485.20 L50.50,477.40 L54.00,469.50 L58.80,460.00 L64.30,450.50 L71.90,440.50 L81.00,431.40 L91.70,423.10 L103.60,417.40 L117.10,414.30 L130.50,415.50 L143.10,420.70 L154.80,427.40 L164.50,436.40 L172.10,447.60 L178.80,457.60 L183.60,468.30 L187.10,477.40 L190.20,485.70 L192.60,492.90 L194.30,498.80 L195.50,504.80 L196.40,510.00 L197.10,514.80 L197.90,519.00 L198.30,522.60 L198.60,526.20 L198.80,529.80 L199.00,531.00" fill="none" stroke="#137a13" stroke-width="1.20" stroke-linejoin="round"/>
<g fill="none" stroke="#137a13" stroke-width="1.00"><circle cx="36.30" cy="531.00" r="1.55"/><circle cx="36.21" cy="527.60" r="1.55"/><circle cx="36.64" cy="524.23" r="1.55"/><circle cx="37.27" cy="520.89" r="1.55"/><circle cx="37.97" cy="517.56" r="1.55"/><circle cx="38.81" cy="514.27" r="1.55"/><circle cx="39.75" cy="511.00" r="1.55"/><circle cx="40.66" cy="507.73" r="1.55"/><circle cx="41.63" cy="504.47" r="1.55"/><circle cx="42.58" cy="501.21" r="1.55"/><circle cx="43.51" cy="497.93" r="1.55"/><circle cx="44.40" cy="494.65" r="1.55"/><circle cx="47.40" cy="485.20" r="1.55"/><circle cx="50.50" cy="477.40" r="1.55"/><circle cx="54.00" cy="469.50" r="1.55"/><circle cx="58.80" cy="460.00" r="1.55"/><circle cx="64.30" cy="450.50" r="1.55"/><circle cx="71.90" cy="440.50" r="1.55"/><circle cx="81.00" cy="431.40" r="1.55"/><circle cx="91.70" cy="423.10" r="1.55"/><circle cx="103.60" cy="417.40" r="1.55"/><circle cx="117.10" cy="414.30" r="1.55"/><circle cx="130.50" cy="415.50" r="1.55"/><circle cx="143.10" cy="420.70" r="1.55"/><circle cx="154.80" cy="427.40" r="1.55"/><circle cx="164.50" cy="436.40" r="1.55"/><circle cx="172.10" cy="447.60" r="1.55"/><circle cx="178.80" cy="457.60" r="1.55"/><circle cx="183.60" cy="468.30" r="1.55"/><circle cx="187.10" cy="477.40" r="1.55"/><circle cx="190.20" cy="485.70" r="1.55"/><circle cx="192.60" cy="492.90" r="1.55"/><circle cx="194.30" cy="498.80" r="1.55"/><circle cx="195.50" cy="504.80" r="1.55"/><circle cx="196.40" cy="510.00" r="1.55"/><circle cx="197.10" cy="514.80" r="1.55"/><circle cx="197.90" cy="519.00" r="1.55"/><circle cx="198.30" cy="522.60" r="1.55"/><circle cx="198.60" cy="526.20" r="1.55"/><circle cx="198.80" cy="529.80" r="1.55"/><circle cx="199.00" cy="531.00" r="1.55"/></g>
<path d="M36.40,531.00 L36.50,529.50 L36.70,526.20 L37.90,522.60 L39.30,518.30 L41.00,513.80 L42.90,509.00 L45.00,504.00 L47.40,498.80 L49.80,493.30 L52.40,487.60 L56.00,481.40 L60.20,474.50 L65.50,468.30 L71.90,462.40 L79.50,457.60 L87.90,454.00 L96.90,452.90 L106.00,454.80 L114.60,458.30 L121.70,464.30 L127.60,470.70 L132.40,478.10 L136.40,485.20 L139.80,491.70 L142.60,497.60 L144.30,503.10 L145.50,508.30 L146.40,513.10 L147.10,517.90 L147.90,521.90 L148.30,525.70 L148.80,529.80 L148.90,531.00" fill="none" stroke="#2b78e8" stroke-width="1.20" stroke-linejoin="round"/>
<g fill="none" stroke="#2b78e8" stroke-width="1.00"><circle cx="36.40" cy="531.00" r="1.55"/><circle cx="36.61" cy="527.61" r="1.55"/><circle cx="37.33" cy="524.31" r="1.55"/><circle cx="38.39" cy="521.08" r="1.55"/><circle cx="39.47" cy="517.86" r="1.55"/><circle cx="40.67" cy="514.68" r="1.55"/><circle cx="41.91" cy="511.51" r="1.55"/><circle cx="43.17" cy="508.35" r="1.55"/><circle cx="44.49" cy="505.22" r="1.55"/><circle cx="45.87" cy="502.11" r="1.55"/><circle cx="47.30" cy="499.03" r="1.55"/><circle cx="48.66" cy="495.91" r="1.55"/><circle cx="50.03" cy="492.80" r="1.55"/><circle cx="51.44" cy="489.71" r="1.55"/><circle cx="52.94" cy="486.66" r="1.55"/><circle cx="54.65" cy="483.72" r="1.55"/><circle cx="60.20" cy="474.50" r="1.55"/><circle cx="65.50" cy="468.30" r="1.55"/><circle cx="71.90" cy="462.40" r="1.55"/><circle cx="79.50" cy="457.60" r="1.55"/><circle cx="87.90" cy="454.00" r="1.55"/><circle cx="96.90" cy="452.90" r="1.55"/><circle cx="106.00" cy="454.80" r="1.55"/><circle cx="114.60" cy="458.30" r="1.55"/><circle cx="121.70" cy="464.30" r="1.55"/><circle cx="127.60" cy="470.70" r="1.55"/><circle cx="132.40" cy="478.10" r="1.55"/><circle cx="136.40" cy="485.20" r="1.55"/><circle cx="139.80" cy="491.70" r="1.55"/><circle cx="142.60" cy="497.60" r="1.55"/><circle cx="144.30" cy="503.10" r="1.55"/><circle cx="145.50" cy="508.30" r="1.55"/><circle cx="146.40" cy="513.10" r="1.55"/><circle cx="147.10" cy="517.90" r="1.55"/><circle cx="147.90" cy="521.90" r="1.55"/><circle cx="148.30" cy="525.70" r="1.55"/><circle cx="148.80" cy="529.80" r="1.55"/><circle cx="148.90" cy="531.00" r="1.55"/></g>
<rect x="36.20" y="390.30" width="178.30" height="142.70" fill="none" stroke="#000" stroke-width="1.55"/>
<path d="M36.20,533.00v3.30M58.49,533.00v3.30M80.78,533.00v3.30M103.06,533.00v3.30M125.35,533.00v3.30M147.64,533.00v3.30M169.93,533.00v3.30M192.21,533.00v3.30M214.50,533.00v3.30" stroke="#000" stroke-width="1.20"/>
<path d="M47.34,533.00v1.80M69.63,533.00v1.80M91.92,533.00v1.80M114.21,533.00v1.80M136.49,533.00v1.80M158.78,533.00v1.80M181.07,533.00v1.80M203.36,533.00v1.80" stroke="#000" stroke-width="1.20"/>
<path d="M36.20,533.00h-3.30M36.20,515.16h-3.30M36.20,497.32h-3.30M36.20,479.49h-3.30M36.20,461.65h-3.30M36.20,443.81h-3.30M36.20,425.98h-3.30M36.20,408.14h-3.30M36.20,390.30h-3.30" stroke="#000" stroke-width="1.20"/>
<path d="M36.20,524.08h-1.80M36.20,506.24h-1.80M36.20,488.41h-1.80M36.20,470.57h-1.80M36.20,452.73h-1.80M36.20,434.89h-1.80M36.20,417.06h-1.80M36.20,399.22h-1.80" stroke="#000" stroke-width="1.20"/>
<text x="36.20" y="544.30" font-size="8.60" font-weight="bold" text-anchor="middle" fill="#000" >0</text>
<text x="58.49" y="544.30" font-size="8.60" font-weight="bold" text-anchor="middle" fill="#000" >1000</text>
<text x="80.78" y="544.30" font-size="8.60" font-weight="bold" text-anchor="middle" fill="#000" >2000</text>
<text x="103.06" y="544.30" font-size="8.60" font-weight="bold" text-anchor="middle" fill="#000" >3000</text>
<text x="125.35" y="544.30" font-size="8.60" font-weight="bold" text-anchor="middle" fill="#000" >4000</text>
<text x="147.64" y="544.30" font-size="8.60" font-weight="bold" text-anchor="middle" fill="#000" >5000</text>
<text x="169.93" y="544.30" font-size="8.60" font-weight="bold" text-anchor="middle" fill="#000" >6000</text>
<text x="192.21" y="544.30" font-size="8.60" font-weight="bold" text-anchor="middle" fill="#000" >7000</text>
<text x="214.50" y="544.30" font-size="8.60" font-weight="bold" text-anchor="middle" fill="#000" >8000</text>
<text x="31.20" y="536.10" font-size="8.60" font-weight="bold" text-anchor="end" fill="#000" >0</text>
<text x="31.20" y="518.26" font-size="8.60" font-weight="bold" text-anchor="end" fill="#000" >500</text>
<text x="31.20" y="500.43" font-size="8.60" font-weight="bold" text-anchor="end" fill="#000" >1000</text>
<text x="31.20" y="482.59" font-size="8.60" font-weight="bold" text-anchor="end" fill="#000" >1500</text>
<text x="31.20" y="464.75" font-size="8.60" font-weight="bold" text-anchor="end" fill="#000" >2000</text>
<text x="31.20" y="446.91" font-size="8.60" font-weight="bold" text-anchor="end" fill="#000" >2500</text>
<text x="31.20" y="429.08" font-size="8.60" font-weight="bold" text-anchor="end" fill="#000" >3000</text>
<text x="31.20" y="411.24" font-size="8.60" font-weight="bold" text-anchor="end" fill="#000" >3500</text>
<text x="31.20" y="393.40" font-size="8.60" font-weight="bold" text-anchor="end" fill="#000" >4000</text>
<text x="126.80" y="557.20" font-size="10.70" font-weight="bold" text-anchor="middle" fill="#000" >Z' (ohm)</text>
<text transform="translate(8.80,461.50) rotate(-90)" font-size="10.50" font-weight="bold" text-anchor="middle" fill="#000">Z'' (ohm)</text>
<line x1="151.50" y1="397.90" x2="168.20" y2="397.90" stroke="#ff1010" stroke-width="1.30"/>
<circle cx="159.85" cy="397.90" r="1.5" fill="none" stroke="#ff1010" stroke-width="1"/>
<text transform="translate(170.90,400.78) scale(0.870,1)" font-size="9.20" font-weight="bold" text-anchor="start" fill="#ff1010" stroke="#ff1010" stroke-width="0.22">PM6:NaO1</text>
<line x1="151.50" y1="408.00" x2="168.20" y2="408.00" stroke="#137a13" stroke-width="1.30"/>
<circle cx="159.85" cy="408.00" r="1.5" fill="none" stroke="#137a13" stroke-width="1"/>
<text transform="translate(170.90,410.88) scale(0.870,1)" font-size="9.20" font-weight="bold" text-anchor="start" fill="#137a13" stroke="#137a13" stroke-width="0.22">PM6:NaO2</text>
<line x1="151.50" y1="418.00" x2="168.20" y2="418.00" stroke="#2b78e8" stroke-width="1.30"/>
<circle cx="159.85" cy="418.00" r="1.5" fill="none" stroke="#2b78e8" stroke-width="1"/>
<text transform="translate(170.90,420.88) scale(0.870,1)" font-size="9.20" font-weight="bold" text-anchor="start" fill="#2b78e8" stroke="#2b78e8" stroke-width="0.22">PM6:NaO3</text>
<path d="M276.30,539.00 C277.63,535.32 281.38,524.55 284.30,516.90 C287.22,509.25 290.63,500.83 293.80,493.10 C296.97,485.37 300.32,477.45 303.30,470.50 C306.28,463.55 309.12,457.15 311.70,451.40 C314.28,445.65 316.62,440.17 318.80,436.00 C320.98,431.83 322.82,428.98 324.80,426.40 C326.78,423.82 328.33,422.00 330.70,420.50 C333.07,419.00 335.78,418.08 339.00,417.40 C342.22,416.72 345.92,416.65 350.00,416.40 C354.08,416.15 358.10,415.95 363.50,415.90 C368.90,415.85 374.50,416.07 382.40,416.10 C390.30,416.13 403.63,415.97 410.90,416.10 C418.17,416.23 420.73,416.62 426.00,416.90 C431.27,417.18 439.75,417.65 442.50,417.80" fill="none" stroke="#ff1010" stroke-width="1.50" stroke-linejoin="round" stroke-linecap="round" />
<path d="M285.90,539.00 C287.02,536.12 290.25,528.17 292.60,521.70 C294.95,515.23 297.40,506.95 300.00,500.20 C302.60,493.45 305.45,487.15 308.20,481.20 C310.95,475.25 313.92,470.05 316.50,464.50 C319.08,458.95 321.32,453.05 323.70,447.90 C326.08,442.75 328.62,437.38 330.80,433.60 C332.98,429.82 334.82,427.50 336.80,425.20 C338.78,422.90 340.50,421.07 342.70,419.80 C344.90,418.53 347.12,418.10 350.00,417.60 C352.88,417.10 356.17,417.05 360.00,416.80 C363.83,416.55 367.67,416.22 373.00,416.10 C378.33,415.98 386.32,415.88 392.00,416.10 C397.68,416.32 403.00,416.98 407.10,417.40 C411.20,417.82 413.45,418.57 416.60,418.60 C419.75,418.63 421.68,417.73 426.00,417.60 C430.32,417.47 439.75,417.77 442.50,417.80" fill="none" stroke="#137a13" stroke-width="1.50" stroke-linejoin="round" stroke-linecap="round" />
<path d="M284.50,539.00 C285.65,536.12 288.85,528.17 291.40,521.70 C293.95,515.23 297.02,506.95 299.80,500.20 C302.58,493.45 305.33,487.15 308.10,481.20 C310.87,475.25 313.82,470.05 316.40,464.50 C318.98,458.95 321.22,453.05 323.60,447.90 C325.98,442.75 328.52,437.38 330.70,433.60 C332.88,429.82 334.72,427.50 336.70,425.20 C338.68,422.90 340.38,421.07 342.60,419.80 C344.82,418.53 347.10,418.10 350.00,417.60 C352.90,417.10 356.17,417.05 360.00,416.80 C363.83,416.55 367.67,416.22 373.00,416.10 C378.33,415.98 385.68,415.92 392.00,416.10 C398.32,416.28 404.58,417.03 410.90,417.20 C417.22,417.37 424.63,417.00 429.90,417.10 C435.17,417.20 440.40,417.68 442.50,417.80" fill="none" stroke="#2b78e8" stroke-width="1.50" stroke-linejoin="round" stroke-linecap="round" />
<rect x="259.80" y="391.50" width="183.20" height="147.40" fill="none" stroke="#000" stroke-width="1.55"/>
<path d="M280.16,538.90v3.30M320.87,538.90v3.30M361.58,538.90v3.30M402.29,538.90v3.30M443.00,538.90v3.30" stroke="#000" stroke-width="1.20"/>
<path d="M259.80,538.90v1.80M280.16,538.90v1.80M300.51,538.90v1.80M320.87,538.90v1.80M341.22,538.90v1.80M361.58,538.90v1.80M381.93,538.90v1.80M402.29,538.90v1.80M422.64,538.90v1.80M443.00,538.90v1.80" stroke="#000" stroke-width="1.20"/>
<path d="M259.80,538.90h-3.30M259.80,514.33h-3.30M259.80,489.77h-3.30M259.80,465.20h-3.30M259.80,440.63h-3.30M259.80,416.07h-3.30M259.80,391.50h-3.30" stroke="#000" stroke-width="1.20"/>
<path d="M259.80,531.50h-1.50M259.80,527.18h-1.50M259.80,524.11h-1.50M259.80,521.73h-1.50M259.80,519.78h-1.50M259.80,518.14h-1.50M259.80,516.71h-1.50M259.80,515.46h-1.50M259.80,506.94h-1.50M259.80,502.61h-1.50M259.80,499.54h-1.50M259.80,497.16h-1.50M259.80,495.22h-1.50M259.80,493.57h-1.50M259.80,492.15h-1.50M259.80,490.89h-1.50M259.80,482.37h-1.50M259.80,478.05h-1.50M259.80,474.98h-1.50M259.80,472.60h-1.50M259.80,470.65h-1.50M259.80,469.01h-1.50M259.80,467.58h-1.50M259.80,466.32h-1.50M259.80,457.80h-1.50M259.80,453.48h-1.50M259.80,450.41h-1.50M259.80,448.03h-1.50M259.80,446.08h-1.50M259.80,444.44h-1.50M259.80,443.01h-1.50M259.80,441.76h-1.50M259.80,433.24h-1.50M259.80,428.91h-1.50M259.80,425.84h-1.50M259.80,423.46h-1.50M259.80,421.52h-1.50M259.80,419.87h-1.50M259.80,418.45h-1.50M259.80,417.19h-1.50M259.80,408.67h-1.50M259.80,404.35h-1.50M259.80,401.28h-1.50M259.80,398.90h-1.50M259.80,396.95h-1.50M259.80,395.31h-1.50M259.80,393.88h-1.50M259.80,392.62h-1.50" stroke="#000" stroke-width="1.20"/>
<text transform="translate(280.16,550.50) scale(0.890,1)" font-size="9.60" font-weight="bold" text-anchor="middle" fill="#000" >1.2</text>
<text transform="translate(320.87,550.50) scale(0.890,1)" font-size="9.60" font-weight="bold" text-anchor="middle" fill="#000" >1.4</text>
<text transform="translate(361.58,550.50) scale(0.890,1)" font-size="9.60" font-weight="bold" text-anchor="middle" fill="#000" >1.6</text>
<text transform="translate(402.29,550.50) scale(0.890,1)" font-size="9.60" font-weight="bold" text-anchor="middle" fill="#000" >1.8</text>
<text transform="translate(443.00,550.50) scale(0.890,1)" font-size="9.60" font-weight="bold" text-anchor="middle" fill="#000" >2.0</text>
<text transform="translate(254.50,542.40) scale(0.930,1)" font-size="9.00" font-weight="bold" text-anchor="end" fill="#000" >10<tspan dy="-3.7" font-size="6.6">-5</tspan></text>
<text transform="translate(254.50,517.83) scale(0.930,1)" font-size="9.00" font-weight="bold" text-anchor="end" fill="#000" >10<tspan dy="-3.7" font-size="6.6">-4</tspan></text>
<text transform="translate(254.50,493.27) scale(0.930,1)" font-size="9.00" font-weight="bold" text-anchor="end" fill="#000" >10<tspan dy="-3.7" font-size="6.6">-3</tspan></text>
<text transform="translate(254.50,468.70) scale(0.930,1)" font-size="9.00" font-weight="bold" text-anchor="end" fill="#000" >10<tspan dy="-3.7" font-size="6.6">-2</tspan></text>
<text transform="translate(254.50,444.13) scale(0.930,1)" font-size="9.00" font-weight="bold" text-anchor="end" fill="#000" >10<tspan dy="-3.7" font-size="6.6">-1</tspan></text>
<text transform="translate(254.50,419.57) scale(0.930,1)" font-size="9.00" font-weight="bold" text-anchor="end" fill="#000" >10<tspan dy="-3.7" font-size="6.6">0</tspan></text>
<text transform="translate(254.50,395.00) scale(0.930,1)" font-size="9.00" font-weight="bold" text-anchor="end" fill="#000" >10<tspan dy="-3.7" font-size="6.6">1</tspan></text>
<text x="351.00" y="560.80" font-size="10.60" font-weight="bold" text-anchor="middle" fill="#000" >Energy (eV)</text>
<text transform="translate(233.60,460.50) rotate(-90)" font-size="10.90" font-weight="bold" text-anchor="middle" fill="#000">Nomalized EQE</text>
<line x1="343.50" y1="489.40" x2="361.60" y2="489.40" stroke="#ff1010" stroke-width="1.45"/>
<text transform="translate(364.80,492.32) scale(0.870,1)" font-size="9.31" font-weight="bold" text-anchor="start" fill="#ff1010" stroke="#ff1010" stroke-width="0.22">PM6:NaO1</text>
<line x1="343.50" y1="500.20" x2="361.60" y2="500.20" stroke="#137a13" stroke-width="1.45"/>
<text transform="translate(364.80,503.12) scale(0.870,1)" font-size="9.31" font-weight="bold" text-anchor="start" fill="#137a13" stroke="#137a13" stroke-width="0.22">PM6:NaO2</text>
<line x1="343.50" y1="510.70" x2="361.60" y2="510.70" stroke="#2b78e8" stroke-width="1.45"/>
<text transform="translate(364.80,513.62) scale(0.870,1)" font-size="9.31" font-weight="bold" text-anchor="start" fill="#2b78e8" stroke="#2b78e8" stroke-width="0.22">PM6:NaO3</text>
<path d="M493.50,475.00 L511.10,472.00 L560.00,472.00 L620.00,472.00 L678.00,471.80" fill="none" stroke="#ff1010" stroke-width="1.6" stroke-linejoin="round"/>
<path d="M493.50,480.30 L511.10,477.10 L560.00,477.10 L620.00,477.20 L678.00,477.60" fill="none" stroke="#137a13" stroke-width="1.6" stroke-linejoin="round"/>
<path d="M493.50,480.80 L505.00,479.30 L520.00,478.00 L540.00,476.80 L565.00,475.60 L600.00,475.40 L640.00,475.40 L678.00,475.40" fill="none" stroke="#2b78e8" stroke-width="1.6" stroke-linejoin="round"/>
<rect x="493.60" y="390.60" width="184.90" height="148.40" fill="none" stroke="#000" stroke-width="1.55"/>
<path d="M493.60,539.00v3.30M530.58,539.00v3.30M567.56,539.00v3.30M604.54,539.00v3.30M641.52,539.00v3.30M678.50,539.00v3.30" stroke="#000" stroke-width="1.20"/>
<path d="M512.09,539.00v1.80M549.07,539.00v1.80M586.05,539.00v1.80M623.03,539.00v1.80M660.01,539.00v1.80" stroke="#000" stroke-width="1.20"/>
<path d="M493.60,539.00h-3.30M493.60,489.53h-3.30M493.60,440.07h-3.30M493.60,390.60h-3.30" stroke="#000" stroke-width="1.20"/>
<path d="M493.60,524.11h-1.50M493.60,515.40h-1.50M493.60,509.22h-1.50M493.60,504.42h-1.50M493.60,500.51h-1.50M493.60,497.20h-1.50M493.60,494.33h-1.50M493.60,491.80h-1.50M493.60,474.64h-1.50M493.60,465.93h-1.50M493.60,459.75h-1.50M493.60,454.96h-1.50M493.60,451.04h-1.50M493.60,447.73h-1.50M493.60,444.86h-1.50M493.60,442.33h-1.50M493.60,425.18h-1.50M493.60,416.47h-1.50M493.60,410.28h-1.50M493.60,405.49h-1.50M493.60,401.57h-1.50M493.60,398.26h-1.50M493.60,395.39h-1.50M493.60,392.86h-1.50" stroke="#000" stroke-width="1.20"/>
<text transform="translate(493.60,550.50) scale(0.890,1)" font-size="9.60" font-weight="bold" text-anchor="middle" fill="#000" >5</text>
<text transform="translate(530.58,550.50) scale(0.890,1)" font-size="9.60" font-weight="bold" text-anchor="middle" fill="#000" >10</text>
<text transform="translate(567.56,550.50) scale(0.890,1)" font-size="9.60" font-weight="bold" text-anchor="middle" fill="#000" >15</text>
<text transform="translate(604.54,550.50) scale(0.890,1)" font-size="9.60" font-weight="bold" text-anchor="middle" fill="#000" >20</text>
<text transform="translate(641.52,550.50) scale(0.890,1)" font-size="9.60" font-weight="bold" text-anchor="middle" fill="#000" >25</text>
<text transform="translate(678.50,550.50) scale(0.890,1)" font-size="9.60" font-weight="bold" text-anchor="middle" fill="#000" >30</text>
<text x="487.60" y="542.20" font-size="8.80" font-weight="bold" text-anchor="end" fill="#000" >0.001</text>
<text x="487.60" y="492.73" font-size="8.80" font-weight="bold" text-anchor="end" fill="#000" >0.01</text>
<text x="487.60" y="443.27" font-size="8.80" font-weight="bold" text-anchor="end" fill="#000" >0.1</text>
<text x="487.60" y="393.80" font-size="8.80" font-weight="bold" text-anchor="end" fill="#000" >1</text>
<text x="520.3" y="564.2" font-size="10.6" font-weight="bold">Current Density <tspan font-size="7.5">(</tspan><tspan font-size="10.7">mA cm</tspan><tspan dy="-4.0" dx="0.4" font-size="7.4">-2</tspan><tspan dy="4.0" dx="0.3" font-size="7.5">)</tspan></text>
<text transform="translate(467.40,461.20) rotate(-90)" font-size="9.70" font-weight="bold" text-anchor="middle" fill="#000">EQE-EL (%)</text>
<line x1="536.50" y1="411.50" x2="554.60" y2="411.50" stroke="#ff1010" stroke-width="1.45"/>
<text transform="translate(558.00,414.45) scale(0.870,1)" font-size="9.43" font-weight="bold" text-anchor="start" fill="#ff1010" stroke="#ff1010" stroke-width="0.22">PM6:NaO1</text>
<line x1="536.50" y1="422.00" x2="554.60" y2="422.00" stroke="#137a13" stroke-width="1.45"/>
<text transform="translate(558.00,424.95) scale(0.870,1)" font-size="9.43" font-weight="bold" text-anchor="start" fill="#137a13" stroke="#137a13" stroke-width="0.22">PM6:NaO2</text>
<line x1="536.50" y1="432.60" x2="554.60" y2="432.60" stroke="#2b78e8" stroke-width="1.45"/>
<text transform="translate(558.00,435.55) scale(0.870,1)" font-size="9.43" font-weight="bold" text-anchor="start" fill="#2b78e8" stroke="#2b78e8" stroke-width="0.22">PM6:NaO3</text>
</svg></body></html>
